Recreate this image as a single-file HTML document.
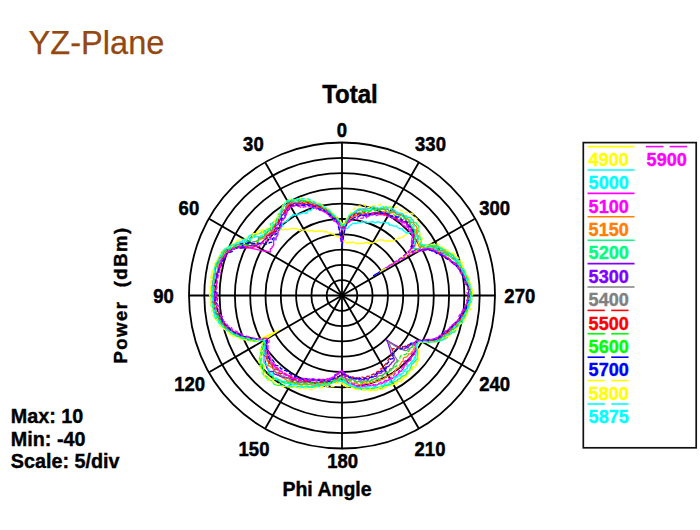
<!DOCTYPE html><html><head><meta charset="utf-8"><style>html,body{margin:0;padding:0;background:#fff;}svg{display:block}</style></head><body>
<svg width="700" height="530" viewBox="0 0 700 530" font-family="'Liberation Sans', Arial, sans-serif">
<rect width="700" height="530" fill="#fff"/>
<text x="28.6" y="54" font-size="32.6" fill="#94470F" stroke="#94470F" stroke-width="0.25">YZ-Plane</text>
<g fill="none" stroke="#000" stroke-width="1.8"><path d="M357.30,295.5 C357.30,304.14 350.64,310.80 342.0,310.80 C333.36,310.80 326.70,304.14 326.70,295.5 C326.70,286.86 333.36,280.20 342.0,280.20 C350.64,280.20 357.30,286.86 357.30,295.5 Z"/><path d="M372.60,295.5 C372.60,312.79 359.29,326.10 342.0,326.10 C324.71,326.10 311.40,312.79 311.40,295.5 C311.40,278.21 324.71,264.90 342.0,264.90 C359.29,264.90 372.60,278.21 372.60,295.5 Z"/><path d="M387.90,295.5 C387.90,321.43 367.93,341.40 342.0,341.40 C316.07,341.40 296.10,321.43 296.10,295.5 C296.10,269.57 316.07,249.60 342.0,249.60 C367.93,249.60 387.90,269.57 387.90,295.5 Z"/><path d="M403.20,295.5 C403.20,330.08 376.58,356.70 342.0,356.70 C307.42,356.70 280.80,330.08 280.80,295.5 C280.80,260.92 307.42,234.30 342.0,234.30 C376.58,234.30 403.20,260.92 403.20,295.5 Z"/><path d="M418.50,295.5 C418.50,338.72 385.22,372.00 342.0,372.00 C298.78,372.00 265.50,338.72 265.50,295.5 C265.50,252.28 298.78,219.00 342.0,219.00 C385.22,219.00 418.50,252.28 418.50,295.5 Z"/><path d="M433.80,295.5 C433.80,347.37 393.87,387.30 342.0,387.30 C290.13,387.30 250.20,347.37 250.20,295.5 C250.20,243.63 290.13,203.70 342.0,203.70 C393.87,203.70 433.80,243.63 433.80,295.5 Z"/><path d="M449.10,295.5 C449.10,356.01 402.51,402.60 342.0,402.60 C281.49,402.60 234.90,356.01 234.90,295.5 C234.90,234.99 281.49,188.40 342.0,188.40 C402.51,188.40 449.10,234.99 449.10,295.5 Z"/><path d="M464.40,295.5 C464.40,364.66 411.16,417.90 342.0,417.90 C272.84,417.90 219.60,364.66 219.60,295.5 C219.60,226.34 272.84,173.10 342.0,173.10 C411.16,173.10 464.40,226.34 464.40,295.5 Z"/><path d="M479.70,295.5 C479.70,373.30 419.80,433.20 342.0,433.20 C264.20,433.20 204.30,373.30 204.30,295.5 C204.30,217.70 264.20,157.80 342.0,157.80 C419.80,157.80 479.70,217.70 479.70,295.5 Z"/><path d="M495.00,295.5 C495.00,381.94 428.44,448.50 342.0,448.50 C255.56,448.50 189.00,381.94 189.00,295.5 C189.00,209.06 255.56,142.50 342.0,142.50 C428.44,142.50 495.00,209.06 495.00,295.5 Z"/><line x1="342.0" y1="295.5" x2="342.00" y2="142.50"/><line x1="342.0" y1="295.5" x2="418.50" y2="163.00"/><line x1="342.0" y1="295.5" x2="474.50" y2="219.00"/><line x1="342.0" y1="295.5" x2="495.00" y2="295.50"/><line x1="342.0" y1="295.5" x2="474.50" y2="372.00"/><line x1="342.0" y1="295.5" x2="418.50" y2="428.00"/><line x1="342.0" y1="295.5" x2="342.00" y2="448.50"/><line x1="342.0" y1="295.5" x2="265.50" y2="428.00"/><line x1="342.0" y1="295.5" x2="209.50" y2="372.00"/><line x1="342.0" y1="295.5" x2="189.00" y2="295.50"/><line x1="342.0" y1="295.5" x2="209.50" y2="219.00"/><line x1="342.0" y1="295.5" x2="265.50" y2="163.00"/></g>
<g fill="none" stroke-width="1.3" stroke-linejoin="round"><path d="M342.0,239.7 341.3,238.9 340.5,238.4 339.8,238.4 339.0,237.4 338.2,236.8 337.3,236.3 336.5,236.0 336.0,236.4 335.7,236.0 334.9,235.3 334.0,234.5 333.1,234.0 332.3,234.1 331.4,233.7 330.4,233.0 329.6,233.2 328.8,233.2 327.7,232.5 326.7,231.7 325.7,231.4 325.7,231.4 324.9,231.6 324.1,231.9 322.9,230.9 321.9,230.9 321.0,230.8 320.2,231.4 319.4,231.7 318.2,230.9 317.2,230.9 316.5,231.5 315.4,231.2 314.5,231.5 313.5,231.5 312.7,230.5 312.0,230.4 311.0,230.4 310.2,231.0 309.1,231.0 307.9,230.7 306.5,230.2 305.3,230.1 304.2,230.1 302.9,229.8 301.5,229.4 300.8,230.2 300.0,230.9 297.8,229.4 295.9,228.5 294.6,228.4 294.2,228.5 293.3,228.4 291.9,228.4 290.8,228.7 289.7,229.1 288.5,229.5 287.2,229.6 285.3,229.1 284.1,229.5 282.9,229.9 280.8,229.3 279.7,229.9 278.8,230.0 278.3,230.1 276.7,230.2 275.0,230.2 274.0,231.0 272.8,230.9 271.3,230.1 269.8,230.5 268.4,230.9 266.7,231.2 265.9,231.7 262.8,229.6 261.2,230.1 259.8,230.7 257.7,230.8 257.0,232.0 256.4,233.3 254.5,233.6 252.4,234.0 251.3,234.9 250.8,236.3 249.4,237.1 247.4,237.5 245.6,238.2 244.5,239.2 241.6,239.3 239.8,240.0 237.4,240.5 236.4,241.7 236.2,243.3 233.7,243.9 231.3,244.5 230.6,245.9 229.1,247.0 226.4,247.6 224.7,248.7 223.7,250.1 222.3,251.3 221.1,252.7 220.3,254.2 219.7,255.8 218.6,257.2 218.0,258.8 217.5,260.4 215.8,261.7 215.6,263.4 215.2,265.1 214.8,266.7 214.6,268.4 213.2,269.9 212.2,271.4 212.0,273.2 211.7,274.9 211.9,276.6 212.0,278.4 211.7,280.1 211.3,281.8 211.0,283.5 211.1,285.2 211.2,286.9 210.4,288.6 210.4,290.3 210.4,292.1 210.1,293.8 209.8,295.5 210.5,297.2 210.7,298.9 210.8,300.7 210.7,302.4 211.0,304.1 212.2,305.7 212.6,307.4 212.4,309.1 212.9,310.8 213.9,312.4 214.3,314.0 214.1,315.8 214.5,317.4 215.2,319.0 216.8,320.4 218.2,321.8 219.3,323.3 220.2,324.7 221.0,326.2 222.7,327.5 224.1,328.7 226.1,329.8 227.6,331.0 229.5,332.0 230.2,333.4 231.1,334.8 234.2,335.3 237.3,335.7 238.4,336.8 239.6,337.9 241.8,338.5 244.1,339.1 246.6,339.5 248.5,340.1 250.6,340.6 252.7,341.0 254.9,341.3 264.2,337.2 270.5,334.3 278.5,330.5 272.4,334.5 266.7,338.3 264.4,340.3 263.1,342.4 262.6,344.2 262.8,345.5 262.2,347.3 261.9,349.0 261.6,350.7 261.9,352.1 262.3,353.4 261.0,356.0 261.1,357.6 261.5,359.0 261.1,361.0 261.4,362.5 261.9,363.9 263.1,364.7 263.9,365.8 264.1,367.5 263.6,369.9 263.8,371.7 264.9,372.6 265.5,374.0 266.0,375.6 267.4,376.2 268.3,377.4 269.1,378.6 270.8,378.8 272.5,379.1 274.4,378.9 276.1,379.2 277.7,379.3 278.9,380.0 280.0,380.9 281.1,381.7 282.4,382.2 284.0,382.3 285.3,382.8 287.2,382.3 288.4,382.9 289.7,383.4 291.6,382.8 292.4,384.1 294.0,384.0 295.3,384.3 296.8,384.3 298.1,384.5 299.0,385.6 300.1,386.4 301.5,386.5 303.6,384.8 305.0,384.8 305.9,386.0 306.8,387.3 308.1,387.3 309.8,386.4 311.0,386.8 312.3,386.9 313.9,386.2 315.2,385.9 316.5,386.1 317.9,385.5 318.9,386.3 320.4,385.7 321.7,385.1 322.7,386.1 324.1,385.6 325.5,384.5 326.8,384.1 327.8,384.9 329.1,384.3 330.4,383.5 331.6,383.2 332.9,382.2 334.0,382.6 335.1,382.8 336.3,382.3 337.5,381.9 338.6,381.7 339.8,380.8 340.9,381.4 342.0,383.0 343.1,383.0 344.3,384.5 345.6,386.5 346.8,387.0 348.0,386.9 349.2,386.6 350.4,386.7 351.6,386.9 352.9,387.7 354.3,388.8 355.6,389.2 356.8,389.3 358.1,389.4 359.4,389.3 360.6,389.0 362.1,389.9 363.4,390.3 364.7,390.1 365.8,389.3 367.3,389.8 368.9,390.7 370.2,390.6 371.6,390.7 372.7,390.0 374.0,389.7 375.7,390.7 376.9,390.1 378.0,389.2 379.4,389.1 380.9,389.4 382.4,389.4 383.2,388.1 384.4,387.5 385.7,387.1 386.7,386.1 387.8,385.3 389.3,385.4 390.8,385.4 392.2,385.1 393.4,384.6 394.6,383.9 396.3,384.2 397.2,383.0 397.7,381.3 399.3,381.3 401.3,381.8 402.0,380.4 402.1,378.3 403.4,377.7 404.8,377.3 406.1,376.8 407.0,375.8 407.6,374.4 408.7,373.6 409.2,372.1 409.6,370.6 411.0,370.1 412.4,369.6 412.8,368.2 414.0,367.5 415.4,367.0 415.9,365.6 416.5,364.4 417.0,363.0 417.5,361.7 418.1,360.5 418.4,359.0 417.9,356.9 417.9,355.3 418.4,354.1 418.1,352.3 418.6,351.2 417.9,349.1 417.0,347.1 416.8,345.5 416.3,343.8 416.6,342.6 418.3,342.2 420.4,342.1 422.5,342.0 425.3,342.2 428.7,342.6 430.3,341.9 432.0,341.3 435.3,341.5 437.8,341.2 439.4,340.4 441.3,339.7 443.0,338.9 443.9,337.7 446.2,337.1 447.6,336.0 449.3,335.1 450.9,334.1 451.1,332.6 452.4,331.4 454.4,330.4 455.7,329.2 456.7,327.8 457.0,326.3 457.5,324.8 459.6,323.7 461.3,322.5 463.5,321.3 463.3,319.6 463.5,318.0 464.8,316.6 465.4,315.1 466.1,313.5 466.5,311.9 466.9,310.3 468.2,308.8 469.4,307.2 469.5,305.5 469.7,303.9 469.9,302.2 469.9,300.5 470.6,298.9 471.3,297.2 470.8,295.5 471.0,293.8 472.0,292.1 472.4,290.4 471.6,288.7 470.7,287.1 470.4,285.4 470.2,283.7 468.7,282.2 467.6,280.6 467.3,279.0 466.9,277.4 466.6,275.8 464.9,274.4 464.8,272.7 465.3,271.0 463.6,269.6 463.1,268.1 463.1,266.4 462.0,265.0 461.0,263.6 460.0,262.2 458.8,260.9 457.3,259.7 455.7,258.5 455.5,257.0 454.4,255.7 453.4,254.4 451.6,253.4 449.0,252.8 447.4,251.9 445.6,251.0 443.1,250.5 442.6,249.1 441.2,248.2 440.0,247.2 438.4,246.4 437.2,245.4 434.8,245.1 431.7,245.3 428.9,245.4 425.4,245.9 422.0,246.5 419.8,246.4 419.6,245.1 419.0,244.1 419.4,242.3 420.3,240.1 420.1,238.8 418.9,238.1 418.8,236.6 417.8,235.7 417.3,234.5 417.5,232.7 417.1,231.3 416.2,230.4 413.1,231.4 410.8,231.9 408.1,232.8 402.3,237.3 401.4,237.6 399.7,237.8 397.4,238.7 394.4,240.3 392.6,240.8 391.9,240.7 390.9,241.2 389.8,241.0 388.7,240.9 387.3,241.1 386.4,240.6 384.9,241.1 383.8,241.0 383.3,240.2 382.2,240.2 381.2,240.0 380.3,239.8 379.1,239.9 377.7,240.5 376.0,241.6 374.8,242.0 373.5,242.5 372.0,243.5 371.9,243.3 371.5,242.8 370.8,242.5 369.4,243.3 368.5,243.5 368.1,242.5 367.2,242.6 366.5,242.4 365.5,242.7 364.5,243.2 363.7,243.0 362.9,243.2 361.9,243.5 361.1,243.7 360.5,243.1 359.8,243.1 358.9,243.4 358.0,243.9 357.9,243.4 357.5,243.3 356.6,243.8 356.0,243.1 355.3,243.1 354.6,242.9 354.0,242.7 353.3,242.2 352.6,242.0 351.8,242.4 351.0,242.9 350.3,242.8 349.8,242.0 349.0,242.0 348.2,242.8 347.5,243.1 346.8,242.9 346.3,242.6 346.1,243.0 345.5,241.8 344.9,240.7 344.1,240.9 343.4,240.6 342.7,240.1 342.0,238.7" stroke="#ffff00"/><path d="M342.0,229.7 341.1,228.1 340.2,226.7 339.6,226.0 339.2,224.9 338.2,223.0 337.1,221.4 336.0,219.6 335.2,218.1 334.9,218.1 333.9,218.0 332.7,217.2 331.5,216.0 330.3,214.9 329.1,214.3 327.9,213.7 326.6,212.3 325.2,210.8 323.8,209.8 322.6,209.8 321.2,209.0 319.8,208.2 318.5,207.9 317.0,207.0 315.6,206.4 314.8,206.4 314.4,206.5 313.4,207.4 312.4,208.4 311.6,209.7 310.7,210.7 309.2,210.0 308.2,210.8 307.5,212.1 306.5,212.9 306.6,213.4 305.3,213.2 303.9,212.9 302.6,212.9 301.5,213.4 300.4,213.9 299.1,214.0 298.1,214.4 297.7,213.9 296.6,214.4 295.7,215.4 293.9,214.7 292.6,214.9 292.0,216.3 290.7,216.6 290.0,217.7 289.1,218.6 288.3,219.5 287.6,220.7 286.6,221.4 285.4,221.7 284.2,222.2 283.3,223.0 282.2,223.6 282.6,224.7 282.5,225.8 281.7,226.8 281.4,228.2 280.3,228.8 279.1,229.3 278.8,230.7 278.6,232.1 278.0,233.1 277.8,233.5 277.4,234.2 277.3,235.7 276.8,236.8 276.3,237.8 276.4,239.5 275.8,240.4 275.3,240.1 272.5,239.2 269.7,238.5 267.1,238.1 264.7,237.8 261.8,237.3 258.7,236.6 255.9,236.3 254.3,236.3 251.4,234.9 249.7,235.6 248.4,236.5 248.2,238.0 247.5,239.3 244.6,239.3 242.8,239.9 242.3,241.3 240.2,241.9 237.6,242.3 236.0,243.2 234.2,244.1 232.4,245.0 230.7,245.9 228.4,246.7 227.0,247.9 226.0,249.2 224.6,250.5 223.0,251.6 222.0,253.0 221.7,254.7 220.5,256.0 219.3,257.4 219.2,259.1 218.5,260.7 217.4,262.1 216.3,263.6 215.8,265.2 215.4,266.9 214.4,268.4 214.5,270.1 214.0,271.8 213.5,273.4 213.9,275.2 214.4,277.0 214.7,278.7 213.5,280.3 212.5,281.9 213.1,283.7 212.3,285.3 211.6,287.0 211.6,288.7 212.2,290.4 212.7,292.1 211.7,293.8 211.1,295.5 211.9,297.2 211.1,298.9 211.3,300.6 212.1,302.3 211.0,304.1 211.0,305.8 212.6,307.4 213.6,309.0 213.1,310.8 213.8,312.4 214.6,314.0 214.0,315.8 214.8,317.4 216.3,318.8 217.1,320.3 217.9,321.9 219.0,323.3 221.2,324.5 222.3,325.9 223.5,327.3 225.3,328.4 226.8,329.6 228.6,330.7 230.4,331.8 231.2,333.1 233.5,333.9 235.3,334.9 236.8,335.9 239.0,336.6 240.4,337.6 241.9,338.5 245.1,338.6 247.4,339.1 249.0,339.8 252.1,339.9 254.6,340.0 256.6,340.4 260.2,339.9 262.7,339.9 264.2,340.4 264.9,341.4 265.2,342.6 264.6,344.4 263.8,346.3 264.7,347.1 264.6,348.7 263.2,351.2 264.2,352.1 265.0,353.0 263.9,355.4 263.2,357.6 263.3,359.3 263.5,360.8 263.7,362.3 264.7,363.3 265.8,364.2 265.6,366.1 266.6,367.1 267.5,368.1 268.0,369.5 268.0,371.5 268.8,372.6 270.0,373.4 270.5,375.0 272.2,375.0 272.9,376.5 273.7,377.7 274.7,378.6 276.6,378.4 277.6,379.4 279.0,379.8 280.6,380.1 281.7,380.8 283.0,381.3 284.7,381.2 286.3,381.3 287.5,381.9 288.5,382.8 289.2,384.3 291.1,383.7 292.5,383.9 293.4,385.0 295.0,384.7 296.7,384.5 298.4,384.0 299.6,384.5 300.8,384.8 302.4,384.5 304.0,383.9 305.3,384.1 306.4,384.6 307.7,384.9 309.1,384.6 310.5,384.4 311.6,385.1 312.9,385.2 314.4,384.2 315.6,384.5 316.9,384.4 318.2,384.2 319.4,384.4 320.6,384.5 321.9,384.5 323.3,383.5 324.4,383.8 325.8,383.1 327.0,383.0 328.1,383.5 329.4,382.5 330.6,382.3 331.7,382.9 332.9,381.9 334.1,381.8 335.2,381.7 336.4,381.1 337.5,381.2 338.6,381.5 339.8,380.6 340.9,380.8 342.0,380.7 343.1,381.5 344.3,382.9 345.5,383.5 346.6,384.0 347.9,384.9 349.1,385.4 350.3,385.3 351.3,384.1 352.5,384.6 353.9,385.8 355.2,386.7 356.6,387.4 357.8,387.4 359.2,388.1 360.5,388.6 361.7,388.0 363.0,388.4 364.5,389.1 365.6,388.5 366.7,387.8 368.2,388.2 369.6,388.8 370.8,388.3 372.0,387.8 373.4,388.0 374.9,388.5 376.0,387.6 377.3,387.6 378.5,387.0 379.6,386.3 381.1,386.6 382.4,386.2 383.4,385.3 384.5,384.5 386.0,384.7 387.5,384.8 388.5,384.0 389.4,382.9 390.5,382.1 391.9,382.0 393.1,381.4 393.8,380.1 394.6,378.8 395.4,377.7 396.6,377.2 397.6,376.4 398.7,375.8 400.2,375.6 401.0,374.5 402.0,373.7 403.2,373.1 403.8,371.8 404.8,371.0 405.3,369.6 406.4,368.9 407.5,368.2 407.7,366.5 408.7,365.8 409.5,364.8 410.3,363.8 411.3,363.0 411.9,361.8 412.8,360.9 413.8,360.1 414.3,358.9 415.3,358.1 415.4,356.5 415.4,355.0 415.9,353.7 416.3,352.5 416.9,351.4 417.4,350.3 417.2,348.6 416.5,346.7 416.5,345.3 417.3,344.4 417.8,343.3 418.7,342.5 419.5,341.6 421.8,341.6 424.5,341.7 426.7,341.5 429.5,341.6 432.7,341.7 434.9,341.3 437.0,340.8 439.3,340.4 440.6,339.4 442.3,338.6 443.2,337.4 443.8,336.1 445.1,335.1 447.4,334.4 449.3,333.5 451.3,332.6 452.7,331.5 453.3,330.0 454.0,328.7 454.1,327.1 455.9,326.0 458.3,325.0 459.5,323.7 460.0,322.2 461.2,320.8 463.1,319.6 464.2,318.1 464.9,316.6 464.8,315.0 465.0,313.3 465.7,311.8 466.6,310.3 467.2,308.7 468.6,307.1 469.9,305.6 469.6,303.9 470.0,302.2 471.6,300.6 471.9,298.9 471.0,297.2 471.7,295.5 471.1,293.8 470.5,292.1 470.7,290.4 471.1,288.7 470.3,287.1 469.8,285.4 469.9,283.7 469.3,282.1 468.6,280.5 468.5,278.8 467.7,277.3 465.9,275.9 465.7,274.2 465.1,272.7 464.6,271.1 464.1,269.6 463.0,268.1 462.2,266.6 461.1,265.2 459.6,264.0 459.8,262.3 459.5,260.7 457.2,259.7 455.8,258.5 454.0,257.5 453.5,256.0 452.4,254.8 450.9,253.7 448.2,253.1 445.9,252.4 444.8,251.3 443.8,250.2 442.7,249.1 441.7,247.9 438.6,247.9 436.4,247.4 435.5,246.3 433.5,245.8 431.8,245.2 428.8,245.4 425.7,245.7 424.3,245.1 421.3,245.5 420.0,244.9 420.1,243.3 419.6,242.2 417.9,241.8 418.0,240.3 418.5,238.4 418.7,236.6 417.9,235.6 417.4,234.5 417.5,232.7 418.5,230.1 413.8,233.1 412.8,233.4 411.5,233.0 410.4,232.3 408.1,232.8 406.4,233.1 406.6,232.6 405.4,232.1 404.3,231.5 403.7,230.5 402.5,230.1 402.6,230.0 402.1,228.7 400.7,228.6 399.3,228.5 398.2,227.9 397.4,227.1 396.8,226.0 395.3,226.1 393.7,226.2 392.8,225.6 391.8,225.0 390.3,225.2 389.5,225.4 389.2,224.9 388.8,223.5 387.9,222.8 386.6,222.8 385.4,222.6 384.2,222.4 383.2,222.0 381.6,222.6 380.3,222.8 379.4,222.0 378.3,221.9 377.1,221.9 375.5,222.9 374.3,222.9 374.4,222.4 373.6,222.1 372.6,221.7 371.3,222.1 370.3,221.9 368.9,222.5 367.8,222.6 366.9,222.3 365.9,221.9 364.9,221.6 363.6,222.5 362.8,221.9 361.8,221.6 360.5,222.7 359.4,222.8 358.5,222.8 357.4,222.9 356.3,223.5 355.4,223.4 354.4,223.2 353.4,223.3 352.4,223.5 351.4,224.8 351.3,224.7 350.3,225.1 349.3,226.1 348.2,227.7 347.2,228.9 346.4,228.1 345.5,227.9 344.6,229.8 344.6,230.1 343.7,229.2 342.9,228.9 342.0,229.4" stroke="#00ffff"/><path d="M342.0,245.8 341.3,239.9 340.4,234.3 339.4,228.9 338.2,223.3 337.2,222.3 336.2,222.0 335.2,221.4 334.0,219.6 332.8,217.5 331.7,217.1 330.6,216.6 329.3,215.6 328.0,213.9 326.5,211.9 325.3,211.7 324.2,212.0 322.9,211.0 321.4,209.7 320.1,209.3 318.8,209.0 317.2,207.7 315.4,205.7 314.1,205.7 313.1,206.6 311.6,206.0 310.2,205.8 308.6,204.9 307.0,204.4 305.9,205.0 304.4,204.8 302.9,204.4 301.7,205.0 300.3,205.1 298.9,205.1 297.7,205.6 296.0,205.2 294.6,205.4 292.7,204.8 291.6,205.6 291.0,207.1 289.6,207.4 288.8,208.7 287.8,209.6 287.2,211.1 286.3,212.2 285.6,213.4 285.7,215.9 285.2,217.3 284.4,218.4 283.5,219.3 282.4,219.9 281.7,221.0 281.5,222.4 281.8,223.2 281.6,224.7 281.2,226.2 280.3,227.0 279.8,228.2 279.5,229.7 278.6,230.4 277.9,231.4 277.9,233.0 277.9,234.7 277.4,235.8 276.4,236.4 275.9,237.6 276.1,239.2 275.5,238.9 274.6,239.4 273.7,240.2 273.6,241.6 273.6,243.0 273.8,244.6 273.5,245.8 272.3,246.3 272.1,246.6 272.2,247.5 271.5,248.4 270.3,248.9 270.3,250.2 270.3,251.6 270.3,252.0 268.4,251.7 265.0,251.0 264.0,251.0 262.0,250.7 257.4,249.6 252.9,248.6 250.4,248.0 248.3,247.8 245.3,247.8 242.2,247.9 239.5,247.7 237.9,247.5 236.1,248.3 233.1,248.7 231.3,249.7 229.8,250.7 226.6,251.2 225.5,252.5 225.3,254.2 224.7,255.7 224.4,257.3 223.8,258.8 222.1,260.0 222.0,261.7 220.8,263.0 219.7,264.4 219.4,266.1 218.2,267.5 218.4,269.2 218.9,271.0 217.7,272.5 216.7,274.0 216.8,275.7 216.7,277.3 216.4,279.0 216.9,280.7 217.1,282.4 216.7,284.0 215.9,285.6 215.4,287.2 215.8,288.9 215.0,290.5 213.8,292.1 214.4,293.8 215.5,295.5 215.5,297.2 215.2,298.8 215.0,300.5 214.7,302.2 215.3,303.8 216.2,305.4 216.6,307.0 216.4,308.7 217.2,310.3 218.3,311.8 219.3,313.3 219.8,314.9 220.5,316.4 220.0,318.1 220.1,319.7 222.4,320.9 223.3,322.4 224.1,323.8 224.5,325.3 226.9,326.3 228.0,327.7 229.0,329.0 231.4,329.8 232.2,331.2 233.7,332.3 236.6,332.8 238.8,333.6 240.0,334.7 241.3,335.7 243.4,336.4 245.8,336.8 248.1,337.3 249.9,337.9 252.5,338.2 253.8,339.0 255.5,339.6 258.7,339.3 261.5,339.2 263.8,339.3 266.4,339.2 267.0,340.1 266.5,341.8 267.1,342.8 267.1,344.2 266.5,346.0 266.8,347.2 266.6,348.8 266.8,350.2 267.4,351.2 268.0,352.3 268.5,353.4 268.6,354.9 269.5,355.8 269.9,357.1 269.9,358.8 269.9,360.4 271.2,361.0 271.0,362.9 271.4,364.3 273.8,363.7 274.9,364.4 274.6,366.5 275.3,367.7 276.8,368.0 277.8,368.7 278.5,369.8 279.5,370.7 280.8,371.1 281.8,371.9 282.6,373.0 283.5,373.9 284.7,374.4 286.0,374.8 287.4,374.9 288.5,375.6 289.9,375.7 291.0,376.4 292.0,377.1 292.7,378.3 293.9,378.9 295.2,379.0 297.0,378.4 298.2,378.7 299.2,379.5 300.8,379.1 302.5,378.4 303.8,378.3 304.8,379.1 306.3,378.7 307.2,379.5 308.3,379.9 309.6,379.9 311.0,379.5 312.5,378.8 313.8,378.7 314.8,379.3 315.7,380.1 317.0,379.8 318.4,379.1 319.6,379.2 320.6,379.6 321.8,379.7 323.0,379.4 324.1,379.5 325.2,380.1 326.5,379.1 327.7,378.6 328.8,379.0 330.0,378.1 331.1,378.0 332.3,377.8 333.4,377.6 334.6,376.5 335.7,375.0 336.8,374.1 337.9,373.3 339.0,372.0 340.0,371.7 341.0,371.5 342.0,370.6 343.0,372.6 344.1,375.2 345.2,377.0 346.4,380.0 347.7,382.3 348.9,383.1 350.1,383.6 351.3,383.7 352.5,384.0 353.7,384.7 355.0,385.3 356.3,386.0 357.7,386.9 359.0,387.4 360.2,387.2 361.4,386.7 362.6,386.4 363.9,386.5 365.1,386.4 366.3,386.2 367.5,385.8 368.8,385.9 370.0,385.7 371.2,385.2 372.5,385.2 374.1,386.2 375.5,386.2 376.5,385.4 377.6,384.6 378.7,384.2 380.1,384.1 381.3,383.9 382.5,383.4 383.4,382.2 384.8,382.2 386.2,382.2 386.9,380.9 388.0,380.3 389.2,379.7 390.4,379.3 391.7,379.0 392.7,378.2 393.5,377.2 394.8,376.8 395.9,376.2 396.7,375.0 397.7,374.3 398.6,373.4 399.3,372.2 400.2,371.4 401.6,371.0 402.1,369.7 403.0,368.9 403.8,367.9 404.1,366.3 404.9,365.3 406.0,364.7 406.7,363.6 407.0,362.2 408.1,361.6 409.2,361.0 410.3,360.4 411.0,359.3 411.2,357.8 411.8,356.7 412.4,355.7 413.6,355.0 414.6,354.3 414.8,352.9 415.0,351.5 414.8,349.9 415.5,348.9 416.4,348.1 414.7,345.4 413.8,343.5 414.6,342.7 415.9,342.2 417.2,341.6 418.7,341.1 421.3,341.3 423.3,341.1 424.5,340.3 425.9,339.7 428.4,339.5 431.4,339.6 433.9,339.3 435.1,338.4 436.7,337.7 438.7,337.0 439.7,336.0 441.6,335.2 443.1,334.3 443.9,333.1 445.0,332.0 446.6,331.0 448.0,329.9 449.2,328.8 450.3,327.6 451.8,326.5 453.9,325.5 454.2,324.0 455.7,322.8 457.1,321.5 457.9,320.1 459.8,318.9 460.4,317.4 460.7,315.9 462.7,314.6 464.0,313.2 464.0,311.6 463.9,309.9 465.3,308.5 466.6,306.9 466.9,305.3 466.8,303.7 467.3,302.1 467.6,300.4 467.8,298.8 469.8,297.2 470.7,295.5 470.5,293.8 470.0,292.1 469.5,290.5 469.2,288.8 469.3,287.2 468.5,285.5 466.2,284.1 465.8,282.5 465.9,280.8 465.3,279.3 464.3,277.8 463.2,276.3 462.0,274.9 461.3,273.4 460.2,272.0 459.7,270.5 459.0,269.0 458.8,267.5 457.8,266.1 455.5,265.1 453.5,264.1 452.2,262.9 451.8,261.4 450.4,260.3 448.5,259.3 447.1,258.3 446.2,257.1 444.7,256.1 442.9,255.2 441.2,254.4 440.1,253.3 438.2,252.7 435.3,252.5 434.7,251.3 432.9,250.7 431.0,250.1 429.0,249.7 426.5,249.6 422.3,250.5 419.1,251.0 415.5,251.8 412.3,252.4 409.0,253.2 408.4,252.3 410.2,249.9 410.9,248.2 411.4,246.5 411.5,245.0 412.0,243.2 411.3,242.3 411.8,240.5 411.8,239.0 412.4,237.0 412.1,235.6 411.8,234.3 412.2,232.3 410.9,231.8 409.7,231.3 408.9,230.3 408.5,229.0 408.7,227.1 406.9,227.1 405.4,226.9 404.5,226.1 403.5,225.4 402.2,225.0 402.0,223.3 401.2,222.4 400.9,220.8 399.2,220.9 397.7,220.9 397.2,219.6 396.7,218.0 395.4,217.8 394.1,217.5 393.1,216.8 392.3,215.7 391.1,215.3 389.6,215.5 389.0,214.1 387.9,213.6 386.1,214.2 385.2,213.3 384.4,212.3 382.9,212.5 381.6,212.6 380.3,212.5 379.0,212.3 377.8,212.2 376.4,212.5 375.2,212.3 373.7,212.9 372.4,213.0 371.2,213.1 369.7,213.8 368.4,214.2 367.1,214.6 366.1,214.0 365.1,213.4 363.8,214.1 362.6,214.5 361.4,214.6 360.3,214.5 359.2,214.5 358.0,215.0 356.8,215.9 355.7,215.7 354.6,215.7 353.4,216.6 352.3,217.0 351.2,217.5 350.1,218.4 348.9,220.0 347.8,221.5 346.8,222.9 345.8,223.0 344.6,228.5 343.6,233.5 342.7,239.7 342.0,245.9" stroke="#ff00ff"/><path d="M342.0,227.4 341.1,226.1 340.2,225.1 339.1,222.7 338.1,220.4 337.0,219.7 335.9,218.3 334.9,217.8 333.7,216.6 332.6,216.0 331.4,215.2 330.1,213.7 329.0,213.2 327.7,212.4 326.3,210.9 325.0,210.1 323.7,209.6 322.3,208.3 320.7,206.8 319.6,207.2 318.2,206.6 317.0,206.7 315.8,207.0 314.0,205.3 312.3,204.0 310.9,203.9 309.6,204.0 308.1,203.6 306.4,202.7 305.0,202.7 304.0,203.7 302.6,203.7 300.8,203.0 299.0,202.3 297.8,202.7 296.2,202.7 295.0,203.2 293.7,203.6 292.0,203.4 290.7,203.9 289.3,204.2 287.9,204.6 286.7,205.3 286.6,207.7 286.4,209.8 285.1,210.3 284.6,211.9 283.9,213.3 283.0,214.3 282.0,215.1 281.3,216.4 280.7,217.7 279.8,218.6 279.2,220.0 278.6,221.3 277.9,222.5 276.9,223.2 275.7,223.7 274.7,224.6 274.5,226.2 273.9,227.4 273.5,228.8 272.6,229.6 271.8,230.6 271.4,231.9 270.0,232.3 269.1,233.2 268.4,234.3 266.5,234.4 265.6,235.3 265.3,236.7 264.4,237.5 263.3,238.4 261.7,238.8 260.1,239.2 258.7,239.9 258.1,241.0 257.3,242.1 256.9,243.4 255.3,243.9 254.1,244.7 252.2,245.2 250.4,245.7 247.6,245.8 244.8,246.0 241.7,246.0 239.3,246.5 235.8,246.5 232.8,246.9 232.2,248.3 230.4,249.3 229.2,250.5 228.1,251.8 226.3,252.8 225.1,254.1 223.3,255.2 222.9,256.8 222.4,258.4 221.7,259.9 220.4,261.2 219.3,262.6 218.2,264.1 217.7,265.6 217.8,267.4 217.9,269.1 217.8,270.8 216.7,272.3 216.1,273.9 215.9,275.5 215.3,277.1 215.5,278.8 215.7,280.6 214.7,282.1 214.0,283.7 213.8,285.4 214.5,287.1 214.7,288.8 214.5,290.5 213.4,292.1 213.1,293.8 213.8,295.5 213.9,297.2 214.4,298.8 214.3,300.5 214.2,302.2 214.4,303.9 214.2,305.6 214.6,307.2 215.5,308.8 215.8,310.4 216.2,312.1 217.2,313.6 218.7,315.0 219.2,316.6 219.0,318.3 219.1,319.9 220.4,321.3 221.8,322.7 223.1,324.0 223.9,325.5 224.1,327.1 226.0,328.2 227.9,329.3 228.3,330.8 230.1,331.9 232.8,332.6 234.5,333.6 236.1,334.6 238.0,335.4 240.1,336.1 241.6,337.1 243.9,337.7 246.2,338.2 248.3,338.7 250.6,339.1 251.9,339.9 254.5,340.1 257.6,339.9 261.5,339.2 265.1,338.6 265.9,339.5 266.2,340.6 266.2,342.0 265.6,343.7 265.2,345.4 265.6,346.5 265.2,348.3 265.3,349.7 265.0,351.4 264.9,353.1 265.5,354.2 266.3,355.2 266.1,357.0 266.5,358.3 266.8,359.7 267.2,361.1 268.5,361.7 268.4,363.6 268.1,365.7 269.7,366.0 270.6,366.9 272.0,367.4 272.9,368.4 273.3,369.8 274.1,370.9 275.1,371.8 276.1,372.7 276.9,373.7 278.3,374.2 279.3,375.0 280.4,375.8 281.1,377.0 282.2,377.8 283.7,378.0 284.7,378.9 285.9,379.5 286.7,380.7 288.1,381.0 289.6,381.1 290.8,381.6 292.1,382.0 293.3,382.5 294.9,382.3 296.2,382.5 297.4,383.1 298.2,384.3 299.6,384.3 300.9,384.6 302.2,384.9 304.2,383.5 305.8,382.9 306.5,384.4 307.7,384.8 309.2,384.4 310.7,383.9 311.8,384.4 312.7,385.7 314.1,385.5 315.4,385.3 316.7,385.3 318.0,385.1 319.1,385.6 320.6,384.8 321.9,384.2 323.2,384.0 324.3,384.5 325.6,383.8 326.9,383.3 328.1,383.5 329.1,384.2 330.4,383.7 331.7,382.7 332.8,382.7 334.0,382.5 335.2,382.1 336.4,380.4 337.6,380.4 338.7,380.5 339.8,379.4 340.9,377.9 342.0,377.8 343.1,379.4 344.2,379.4 345.3,379.8 346.5,381.1 347.6,380.5 348.7,380.4 349.9,381.5 351.1,381.9 352.4,383.2 353.5,383.2 354.7,382.8 355.9,383.0 357.1,383.6 358.5,384.3 359.7,384.6 361.1,385.3 362.0,383.9 362.9,382.4 364.2,382.9 365.6,383.6 366.8,383.4 368.0,383.4 369.3,383.6 370.3,382.6 371.5,382.4 372.8,382.3 373.8,381.6 375.0,381.6 376.4,381.6 377.7,381.6 378.6,380.7 379.3,379.4 380.8,379.7 382.2,379.7 383.1,378.9 384.2,378.4 385.1,377.3 385.9,376.3 387.3,376.3 388.6,376.1 389.4,375.3 390.6,374.8 391.9,374.6 392.7,373.6 393.5,372.6 394.7,372.1 395.4,371.0 396.0,369.8 396.6,368.6 397.7,368.1 398.9,367.7 399.5,366.4 399.8,365.0 400.7,364.2 401.1,362.8 401.6,361.6 402.9,361.4 403.2,360.0 403.3,358.4 404.0,357.5 405.4,357.3 406.6,356.8 407.5,356.1 408.2,355.1 408.5,353.8 410.4,353.9 411.3,353.1 411.5,351.8 412.8,351.3 413.2,350.1 413.6,349.0 414.4,348.1 415.2,347.2 415.4,346.0 415.5,344.6 416.9,344.2 417.1,342.9 416.8,341.4 418.6,341.1 421.8,341.6 425.0,342.0 427.9,342.1 429.8,341.7 432.0,341.4 434.3,341.0 437.4,341.0 439.8,340.6 440.5,339.4 442.5,338.7 444.1,337.8 444.8,336.5 445.9,335.4 446.6,334.1 448.9,333.3 450.3,332.2 450.4,330.7 451.6,329.5 453.5,328.5 454.9,327.4 455.6,325.9 455.9,324.4 456.9,323.1 459.0,322.0 460.3,320.6 461.1,319.2 462.9,317.9 464.3,316.5 463.9,314.8 464.6,313.3 464.9,311.7 465.5,310.1 467.1,308.6 467.5,307.0 468.0,305.4 468.5,303.8 467.9,302.1 468.2,300.5 468.9,298.8 469.6,297.2 470.1,295.5 469.3,293.8 469.0,292.2 469.2,290.5 469.5,288.8 468.6,287.2 467.6,285.6 467.5,284.0 466.8,282.4 466.6,280.8 466.3,279.1 464.8,277.7 464.0,276.2 464.2,274.5 463.8,272.9 462.2,271.6 461.9,270.0 461.7,268.4 459.9,267.2 458.2,266.0 458.3,264.3 458.1,262.8 456.9,261.5 455.4,260.3 453.4,259.3 452.3,258.1 451.5,256.7 449.7,255.8 448.4,254.6 447.0,253.6 445.2,252.7 444.3,251.5 443.0,250.5 439.9,250.4 438.0,249.7 436.8,248.7 435.7,247.8 434.4,246.9 432.3,246.4 430.3,246.0 428.0,245.9 425.5,245.8 422.3,246.3 419.7,246.5 418.4,245.9 418.6,244.3 418.7,242.8 418.0,241.8 417.1,241.0 417.4,239.2 418.0,237.2 417.9,235.7 416.8,235.0 416.7,233.3 416.7,231.7 416.6,230.0 417.1,227.9 416.5,226.6 415.5,225.8 414.6,224.7 413.7,223.8 413.2,222.4 411.5,222.3 410.2,221.7 409.2,220.9 408.5,219.7 407.5,218.8 406.3,218.2 405.0,217.7 403.9,217.0 403.2,215.8 401.8,215.4 400.2,215.4 398.9,215.0 397.6,214.6 396.6,213.9 395.6,213.0 394.4,212.5 392.8,212.5 391.1,212.9 389.6,213.0 388.1,213.1 387.3,212.1 386.1,211.6 384.7,211.8 383.3,211.7 381.8,212.0 380.3,212.5 378.7,213.1 377.1,213.7 376.2,212.9 374.8,213.2 373.6,213.2 371.8,214.7 370.6,214.6 369.8,213.7 368.4,214.2 367.3,214.0 366.2,213.9 365.1,213.6 364.0,213.6 362.6,214.2 361.7,213.6 360.4,214.1 359.2,214.6 358.1,214.5 356.9,215.3 355.8,215.3 354.6,215.8 353.4,216.8 352.3,217.2 351.2,217.9 350.0,219.1 349.0,219.0 347.9,220.3 346.7,223.6 345.7,225.8 344.7,226.9 343.8,227.0 342.9,226.8 342.0,227.2" stroke="#ff8000"/><path d="M342.0,225.1 341.1,223.7 340.1,222.4 339.1,220.8 338.0,219.0 336.9,218.4 335.9,217.5 334.7,215.8 333.5,215.1 332.4,214.8 331.1,212.8 329.8,211.5 328.5,210.0 327.1,208.7 325.8,208.1 324.4,207.1 323.0,206.2 321.7,205.9 320.1,204.1 318.7,203.6 317.7,204.8 316.1,203.7 314.4,202.4 313.1,202.3 311.4,201.4 309.9,200.9 308.9,202.0 307.2,201.1 305.5,200.4 304.2,200.8 302.6,200.3 300.9,199.8 299.7,200.6 298.1,200.3 296.7,200.6 295.3,200.8 293.7,200.8 292.2,200.9 290.6,200.8 289.3,201.3 288.1,202.1 286.4,202.1 285.1,202.7 284.4,204.2 283.4,205.3 282.9,207.1 282.8,209.4 282.3,211.0 281.2,211.8 280.3,212.9 280.0,214.7 278.9,215.5 277.8,216.2 277.3,217.7 276.8,219.2 276.1,220.4 274.7,220.8 273.7,221.7 272.8,222.6 272.2,223.8 270.5,224.0 270.7,226.0 270.8,228.0 269.5,228.5 267.9,228.8 266.6,229.4 265.4,230.1 264.7,231.2 262.9,231.4 261.6,232.1 260.6,233.0 259.1,233.6 257.1,233.8 255.6,234.5 254.7,235.5 253.7,236.5 252.1,237.1 251.7,238.5 251.2,239.9 250.0,240.8 247.7,241.1 246.5,242.0 244.4,242.5 242.2,243.0 240.5,243.8 237.8,244.1 235.2,244.6 233.0,245.2 230.7,245.9 229.7,247.2 228.3,248.4 226.1,249.3 224.4,250.4 222.3,251.3 221.9,253.0 221.7,254.7 222.0,256.5 220.5,257.8 218.9,259.0 218.1,260.6 218.1,262.3 217.3,263.8 216.1,265.3 215.6,266.9 215.4,268.6 215.5,270.3 215.5,272.1 216.0,273.8 215.6,275.5 213.5,276.9 214.1,278.7 214.4,280.4 213.3,282.0 213.4,283.7 212.7,285.3 212.6,287.0 212.5,288.7 212.0,290.4 212.2,292.1 212.4,293.8 212.6,295.5 211.6,297.2 211.8,298.9 213.0,300.6 212.6,302.3 212.2,304.0 212.9,305.7 213.0,307.4 213.9,309.0 214.4,310.6 214.8,312.2 216.0,313.8 216.2,315.4 216.4,317.1 216.3,318.8 217.7,320.2 220.4,321.3 221.2,322.8 221.4,324.4 223.1,325.7 224.4,327.0 225.6,328.3 226.8,329.6 228.8,330.6 230.3,331.8 231.7,333.0 233.6,333.9 235.1,334.9 236.3,336.1 238.7,336.7 240.4,337.6 242.3,338.3 245.0,338.7 246.0,339.8 248.4,340.1 250.8,340.5 252.8,341.0 255.9,340.8 258.8,340.7 262.7,339.9 263.8,340.7 263.1,342.4 262.5,344.2 261.8,346.1 261.6,347.7 261.3,349.4 260.7,351.4 260.6,353.0 260.5,354.7 259.5,357.1 259.5,358.8 259.9,360.2 260.2,361.7 260.2,363.6 260.5,365.1 261.1,366.4 261.6,367.9 262.3,369.2 263.5,370.0 263.0,372.4 263.1,374.4 264.0,375.6 265.5,376.2 266.8,376.9 267.0,378.8 268.6,379.2 269.8,380.0 271.2,380.6 272.5,381.3 273.1,382.9 274.0,384.1 275.4,384.7 276.9,385.1 278.4,385.4 280.3,385.2 282.1,385.2 283.3,385.8 284.6,386.6 286.3,386.4 287.8,386.6 289.3,386.7 290.7,387.0 292.5,386.6 293.8,387.0 295.3,387.2 296.9,387.0 298.6,386.6 300.0,386.7 301.3,386.9 302.6,387.2 304.1,387.0 305.7,386.6 306.9,387.0 308.1,387.4 309.6,386.9 310.9,387.1 312.2,387.3 313.7,386.6 314.9,386.9 316.3,386.7 317.7,386.1 318.9,386.4 320.3,385.7 321.7,385.2 323.1,384.5 324.4,383.8 325.8,382.9 326.8,384.0 327.9,384.3 329.3,383.4 330.4,383.5 331.7,382.6 332.9,382.0 334.1,381.3 335.3,380.2 336.5,379.7 337.7,378.5 338.7,378.7 339.8,378.8 340.9,377.5 342.0,377.6 343.1,378.8 344.2,379.8 345.4,382.1 346.6,383.5 347.8,384.6 349.1,385.3 350.3,386.1 351.6,386.8 352.8,386.8 354.1,387.4 355.4,388.0 356.7,388.2 357.9,388.3 359.1,387.8 360.6,389.2 362.0,389.5 363.2,389.1 364.6,389.6 365.8,389.0 366.9,388.6 368.2,388.4 369.7,388.9 371.0,388.8 372.2,388.5 373.6,388.5 374.8,388.0 376.1,387.8 377.3,387.3 378.8,387.6 380.4,388.2 381.7,387.8 382.7,386.8 383.7,386.0 385.0,385.7 386.6,385.9 387.9,385.6 388.9,384.6 390.2,384.3 391.5,383.9 392.6,383.2 393.9,382.7 394.8,381.7 396.1,381.3 397.3,380.7 397.9,379.2 399.4,379.0 400.4,378.2 401.2,377.0 402.3,376.2 403.6,375.8 405.0,375.5 406.0,374.6 406.7,373.3 406.9,371.4 408.2,370.9 409.7,370.7 410.0,369.0 410.4,367.6 411.1,366.5 411.4,364.9 412.3,363.9 413.2,363.1 414.1,362.2 415.1,361.3 415.8,360.2 416.9,359.5 417.5,358.3 417.3,356.5 417.1,354.7 417.8,353.7 417.3,351.7 416.4,349.5 416.2,348.0 416.9,347.0 416.6,345.4 416.3,343.8 417.8,343.3 418.3,342.2 418.4,340.9 421.4,341.4 425.2,342.1 427.9,342.2 430.3,342.0 432.5,341.6 435.6,341.6 438.0,341.3 439.8,340.6 441.7,339.9 443.9,339.3 445.6,338.4 447.3,337.5 447.8,336.1 448.9,334.9 450.3,333.9 451.6,332.7 454.4,332.0 455.7,330.8 455.8,329.2 456.5,327.8 457.3,326.4 459.0,325.2 460.6,324.0 461.6,322.6 463.5,321.3 463.9,319.8 464.2,318.2 464.9,316.6 465.6,315.1 467.2,313.7 467.0,312.0 467.2,310.3 467.9,308.7 468.6,307.1 468.7,305.5 469.3,303.8 470.9,302.3 470.7,300.6 470.7,298.9 471.4,297.2 472.2,295.5 471.9,293.8 471.5,292.1 470.3,290.5 469.7,288.8 469.8,287.1 469.3,285.5 468.0,283.9 467.3,282.3 467.6,280.6 467.4,279.0 465.6,277.6 464.8,276.1 464.7,274.4 464.5,272.8 464.0,271.2 463.0,269.8 462.4,268.3 461.3,266.8 459.6,265.6 458.4,264.3 458.2,262.7 457.6,261.3 455.8,260.2 455.3,258.7 454.0,257.5 453.5,256.0 451.6,255.1 450.0,254.0 448.9,252.9 447.1,251.9 446.4,250.6 444.6,249.8 442.2,249.3 440.6,248.5 439.9,247.2 438.1,246.5 436.7,245.7 434.5,245.3 432.4,244.9 429.5,245.0 426.8,245.1 423.9,245.3 422.0,245.0 420.2,244.7 421.0,242.7 421.1,241.1 420.8,239.8 420.5,238.5 420.0,237.3 419.9,235.7 419.7,234.2 419.4,232.8 419.1,231.3 418.0,230.6 418.3,228.6 418.8,226.3 418.0,225.3 416.8,224.5 416.4,223.1 414.9,222.6 413.6,222.0 413.2,220.5 412.2,219.5 411.2,218.7 410.6,217.3 408.6,217.5 407.1,217.2 406.4,215.9 404.6,216.1 402.7,216.4 401.9,215.2 401.2,214.0 399.9,213.5 398.7,213.0 397.5,212.5 396.0,212.4 395.3,211.0 394.3,210.2 392.4,210.8 391.5,209.8 391.0,208.1 390.1,206.9 388.3,207.5 386.8,207.6 385.3,207.8 383.9,207.6 382.0,208.7 380.5,209.1 379.1,209.2 377.9,208.8 376.4,209.3 375.1,209.3 374.0,208.9 372.7,208.8 370.8,210.8 369.5,210.7 368.4,210.5 367.1,210.7 365.9,210.7 364.8,210.6 363.5,210.8 362.3,210.8 361.3,210.0 360.3,209.5 359.2,209.0 358.0,209.1 356.6,210.5 355.3,211.8 354.0,212.5 352.8,213.3 351.7,213.9 350.5,214.2 349.4,215.0 348.2,217.2 347.0,219.9 345.9,221.4 344.8,223.6 343.9,224.5 342.9,223.2 342.0,224.0" stroke="#00ff80"/><path d="M342.0,227.3 341.1,225.8 340.1,224.2 339.1,222.6 338.1,221.5 337.1,220.6 336.0,219.7 334.9,217.9 333.7,216.3 332.7,216.9 331.5,215.9 330.1,213.4 329.0,213.5 327.7,212.4 326.1,209.7 324.6,208.3 323.3,207.7 322.3,208.4 320.9,207.8 319.2,205.9 317.9,205.5 316.6,205.4 315.3,205.5 314.1,205.6 312.7,205.3 311.2,204.6 309.6,204.1 308.3,204.1 307.0,204.3 305.6,204.4 304.2,204.3 302.8,204.3 301.2,203.9 299.4,203.1 298.0,203.2 296.4,203.1 294.9,203.0 293.6,203.6 292.6,204.6 291.3,205.0 289.9,205.2 288.9,206.3 287.8,207.1 287.0,208.3 286.2,209.6 285.5,211.0 285.0,212.5 284.3,213.8 283.1,214.4 282.0,215.1 281.4,216.5 281.0,218.1 280.3,219.3 279.7,220.6 279.2,222.0 278.6,223.2 278.1,224.6 276.8,225.0 275.8,225.8 275.7,227.4 275.3,228.8 274.4,229.6 274.1,231.1 273.3,232.0 271.9,232.3 271.3,233.5 270.3,234.3 269.5,235.2 267.9,235.5 266.5,236.0 267.0,238.0 265.5,238.4 264.8,239.4 263.8,240.3 263.1,241.2 262.0,242.0 261.4,243.1 259.7,243.6 258.5,244.3 257.1,245.0 255.2,245.4 253.2,245.8 250.2,245.7 247.8,245.9 246.8,247.0 243.6,247.0 239.1,246.4 236.4,246.8 234.8,247.8 233.3,248.8 231.2,249.6 229.8,250.8 229.0,252.1 227.5,253.3 225.7,254.3 224.5,255.6 223.7,257.1 222.5,258.4 221.3,259.7 221.3,261.5 220.8,263.0 219.5,264.4 219.2,266.0 219.4,267.8 218.6,269.3 218.1,270.9 218.3,272.6 216.4,273.9 216.3,275.6 216.7,277.3 216.0,278.9 216.0,280.6 215.0,282.1 214.4,283.8 214.3,285.4 215.3,287.2 215.2,288.9 214.6,290.5 214.6,292.2 214.2,293.8 213.9,295.5 214.3,297.2 214.6,298.8 214.7,300.5 214.1,302.2 213.9,303.9 214.3,305.6 214.8,307.2 214.4,308.9 214.6,310.6 215.3,312.2 216.9,313.6 218.4,315.1 217.8,316.8 219.2,318.3 220.6,319.7 221.2,321.2 221.5,322.8 222.3,324.2 224.2,325.4 224.9,326.9 226.2,328.2 228.9,329.0 230.0,330.3 231.3,331.5 233.6,332.3 235.0,333.4 236.0,334.6 238.6,335.2 240.5,336.0 242.3,336.8 244.8,337.3 246.1,338.2 247.7,339.0 251.1,338.9 253.4,339.2 255.5,339.6 258.6,339.4 261.3,339.3 263.1,339.7 265.0,339.9 267.1,340.0 267.2,341.3 266.9,342.9 266.1,344.8 266.3,346.1 265.9,347.8 265.5,349.6 265.2,351.3 264.1,353.7 264.1,355.3 265.1,356.1 265.2,357.7 265.2,359.4 265.3,361.0 265.4,362.7 265.7,364.2 266.8,365.0 266.6,367.1 267.1,368.5 268.3,369.2 268.9,370.5 269.6,371.8 271.8,371.5 273.5,371.6 273.5,373.6 274.9,374.1 276.3,374.5 277.5,375.2 279.0,375.5 280.0,376.3 281.8,376.1 282.7,377.1 284.2,377.3 285.7,377.5 287.0,377.8 288.4,378.0 289.6,378.5 290.9,378.9 292.0,379.6 293.5,379.4 295.3,379.0 296.0,380.3 296.7,381.5 298.2,381.5 299.4,381.9 300.7,382.2 302.5,381.2 304.2,380.3 305.5,380.5 306.7,380.7 307.9,381.1 309.0,381.4 310.7,380.4 312.0,380.3 313.0,380.9 314.6,380.0 315.6,380.6 316.7,380.8 318.1,380.1 319.4,380.0 320.2,381.3 321.4,381.4 322.6,381.1 323.8,380.9 325.0,381.0 326.0,382.0 327.2,381.5 328.6,380.1 329.8,379.9 331.0,379.1 332.0,379.6 333.1,380.1 334.4,378.1 335.1,374.3 335.8,374.8 336.8,374.6 337.9,374.0 339.0,373.0 340.0,372.4 341.0,371.3 342.0,370.1 343.0,371.5 344.0,372.4 345.1,373.9 346.2,374.8 347.2,375.3 348.4,376.2 349.2,377.7 349.6,378.2 350.6,377.7 351.9,379.0 353.0,378.9 354.0,378.3 355.2,379.1 356.4,379.2 357.4,378.4 358.7,379.3 359.9,379.9 361.1,380.1 362.2,379.7 363.3,379.5 364.5,379.4 365.4,378.5 366.7,378.9 368.1,379.6 369.0,378.5 369.9,377.6 371.1,377.6 372.3,377.5 373.3,377.0 374.2,376.2 375.5,376.3 376.6,376.0 377.1,374.4 377.8,373.2 378.9,372.9 380.2,373.1 381.5,373.1 382.1,371.7 383.0,371.1 384.2,370.9 385.0,370.1 385.9,369.3 386.4,368.0 386.9,366.7 388.2,366.7 389.1,366.0 389.7,364.8 390.7,364.5 391.2,363.3 391.9,362.4 392.9,361.8 393.7,361.1 394.2,359.9 394.1,358.2 391.6,354.6 390.9,352.7 390.3,350.6 389.7,348.5 388.9,346.2 388.5,344.5 387.7,342.4 386.3,339.8 389.8,342.0 393.5,344.4 396.4,345.8 399.8,347.5 403.6,349.5 404.6,349.0 405.2,348.1 406.6,347.8 408.0,347.5 408.8,346.8 409.2,345.6 410.1,345.0 411.2,344.4 412.9,344.3 414.7,344.1 415.1,343.0 415.3,341.7 416.1,340.9 418.7,341.1 421.6,341.4 423.5,341.1 424.4,340.3 426.6,340.0 429.8,340.2 432.6,340.2 434.9,339.8 436.9,339.2 438.5,338.5 439.7,337.5 440.1,336.1 441.2,335.1 443.0,334.3 445.2,333.6 446.6,332.6 446.9,331.1 448.8,330.2 450.2,329.1 450.5,327.6 451.8,326.5 453.5,325.4 454.4,324.0 455.2,322.7 457.0,321.5 458.0,320.2 459.1,318.8 460.4,317.4 460.5,315.9 460.9,314.3 461.9,312.9 462.6,311.4 463.7,309.9 464.4,308.4 465.8,306.9 466.1,305.3 466.7,303.7 467.5,302.1 467.3,300.4 467.6,298.8 468.1,297.2 468.8,295.5 468.6,293.8 468.7,292.2 469.0,290.5 468.8,288.9 468.2,287.2 467.5,285.6 466.5,284.1 466.7,282.4 466.7,280.7 465.0,279.3 463.8,277.8 463.2,276.3 463.3,274.7 462.2,273.2 461.3,271.8 461.0,270.2 458.9,269.0 457.6,267.7 457.1,266.3 457.2,264.6 456.0,263.3 453.8,262.4 451.6,261.5 450.2,260.3 448.8,259.3 446.9,258.4 445.6,257.3 444.4,256.2 441.9,255.7 440.0,254.9 439.4,253.7 438.1,252.7 436.0,252.2 434.4,251.4 432.6,250.8 430.6,250.4 429.1,249.7 427.1,249.3 425.3,248.8 421.8,249.4 418.8,249.8 415.0,250.7 411.7,251.5 411.5,250.4 411.2,249.3 411.9,247.5 411.5,246.4 412.0,244.6 412.8,242.7 413.3,240.8 413.8,238.9 414.3,237.0 413.7,235.9 413.9,234.1 414.1,232.3 413.2,231.4 413.2,229.7 412.3,228.8 411.2,228.1 410.6,226.9 410.3,225.4 409.1,224.8 407.4,224.7 406.3,224.1 406.5,222.0 405.2,221.5 403.3,221.8 401.9,221.6 400.9,220.8 399.3,220.9 397.6,221.0 397.2,219.5 396.9,217.8 396.1,216.7 393.9,217.8 392.3,218.0 391.7,216.7 390.9,215.7 389.2,216.2 388.5,214.9 387.2,214.7 385.8,214.8 384.6,214.6 383.5,214.0 382.6,213.2 381.2,213.4 379.9,213.2 378.7,213.1 377.5,213.0 376.1,213.3 374.6,213.8 372.9,215.0 372.1,214.0 370.7,214.4 369.1,215.8 367.8,216.1 366.8,215.8 366.2,213.8 364.8,214.6 363.4,215.5 362.3,215.6 361.4,214.7 360.5,213.7 359.3,213.9 358.2,213.9 357.2,213.4 356.2,212.9 355.0,213.1 353.8,214.3 352.6,214.7 351.5,215.3 350.3,216.5 349.1,218.7 347.8,221.3 346.8,222.7 345.7,224.9 344.7,227.7 343.8,228.3 342.9,227.7 342.0,228.0" stroke="#8000ff"/><path d="M342.0,226.0 341.1,224.7 340.1,222.9 339.1,221.5 338.0,220.0 337.0,218.7 335.9,217.9 334.7,216.6 333.6,215.8 332.4,214.6 331.1,212.7 329.9,211.7 328.7,211.7 327.5,210.8 325.9,208.9 324.5,207.6 323.3,207.6 322.0,207.3 320.4,205.6 319.0,204.8 317.6,204.4 316.3,204.5 314.9,203.9 313.4,203.5 311.9,202.8 310.2,201.7 308.9,202.0 307.5,202.0 305.9,201.5 304.5,201.5 302.9,201.2 301.3,200.9 300.2,201.5 298.8,201.7 297.6,202.3 296.2,202.7 294.4,202.1 292.9,202.1 291.5,202.5 290.3,203.2 288.5,202.9 287.5,203.9 286.8,205.4 285.8,206.4 285.7,208.8 284.6,209.6 283.4,210.3 282.6,211.5 281.6,212.4 281.0,213.8 280.6,215.4 279.9,216.7 279.2,217.9 278.6,219.2 278.1,220.7 277.4,221.9 276.4,222.7 275.5,223.5 275.3,225.2 274.6,226.4 273.1,226.6 272.5,227.7 272.7,229.7 271.6,230.5 269.7,230.4 268.2,230.7 267.7,232.0 266.9,233.1 265.4,233.5 265.0,234.8 264.4,236.0 263.0,236.5 262.0,237.4 260.3,237.8 258.3,238.0 258.4,239.6 257.7,240.8 256.2,241.4 254.1,241.7 252.4,242.2 251.8,243.4 249.0,243.4 246.9,243.8 245.3,244.6 242.1,244.6 239.2,244.8 236.0,244.9 234.6,246.0 233.8,247.3 231.9,248.2 229.2,248.8 226.8,249.5 225.0,250.6 224.3,252.1 223.4,253.5 222.7,255.0 222.0,256.5 220.3,257.7 219.2,259.1 218.2,260.6 217.7,262.2 216.9,263.7 216.6,265.4 215.8,267.0 215.5,268.6 215.0,270.2 215.4,272.0 215.3,273.7 213.8,275.2 214.9,277.1 214.5,278.7 213.2,280.3 212.8,281.9 212.6,283.6 213.1,285.4 213.1,287.1 213.7,288.8 214.2,290.5 213.0,292.1 212.7,293.8 213.4,295.5 213.5,297.2 213.7,298.9 212.8,300.6 212.7,302.3 213.6,303.9 213.7,305.6 214.8,307.2 215.7,308.8 215.4,310.5 215.2,312.2 216.2,313.7 216.8,315.3 217.3,316.9 218.5,318.4 219.5,319.9 220.4,321.4 221.2,322.8 223.0,324.1 224.4,325.4 225.5,326.7 226.5,328.1 227.6,329.4 229.7,330.4 230.9,331.6 233.3,332.4 235.8,333.1 236.1,334.6 238.3,335.3 241.1,335.8 242.9,336.5 244.3,337.5 246.3,338.1 248.4,338.7 251.1,338.8 253.5,339.1 255.1,339.8 258.1,339.6 261.6,339.1 264.2,339.1 265.0,339.9 265.3,341.1 265.4,342.4 265.2,344.0 266.0,344.9 266.5,345.9 265.6,348.0 265.0,349.9 265.3,351.3 265.4,352.7 266.2,353.7 267.1,354.5 267.6,355.7 267.4,357.5 267.1,359.5 267.8,360.5 269.0,361.2 270.0,362.0 270.3,363.5 271.0,364.7 271.7,365.8 272.3,367.0 272.9,368.3 274.2,368.8 274.6,370.3 275.4,371.5 276.3,372.5 277.7,372.8 279.2,373.1 280.2,373.9 280.6,375.5 281.6,376.3 283.7,375.8 284.6,376.6 285.5,377.7 286.5,378.6 288.0,378.6 289.3,379.0 290.1,380.1 291.3,380.7 292.9,380.5 294.7,380.0 296.1,380.1 296.7,381.7 297.6,382.7 298.9,382.8 300.5,382.6 302.2,381.9 303.3,382.4 304.4,383.0 305.8,382.9 307.1,382.9 308.6,382.6 310.0,382.3 311.1,382.6 312.2,383.3 313.5,383.2 315.1,382.2 316.4,382.1 317.5,382.5 318.8,382.2 319.8,382.9 321.2,382.3 322.3,382.4 323.4,382.8 324.9,381.6 326.1,381.5 327.2,381.5 328.4,381.3 329.5,381.4 330.7,381.0 331.9,381.1 333.0,380.9 334.2,380.3 335.4,379.3 336.5,379.1 337.6,378.7 338.8,377.1 339.9,375.7 340.9,375.8 342.0,376.3 343.1,377.4 344.1,377.1 345.2,377.7 346.4,379.1 347.5,378.9 348.6,379.3 349.7,379.8 350.9,379.7 351.9,379.1 353.1,379.5 354.3,380.4 355.6,381.1 356.9,382.3 358.0,381.7 359.0,381.0 360.3,381.6 361.6,382.0 362.7,381.9 363.6,380.7 364.9,380.9 366.3,381.5 367.2,380.4 368.5,380.8 369.9,381.5 370.9,380.5 371.9,379.9 373.0,379.6 374.0,379.0 375.1,378.4 376.2,378.1 377.2,377.4 378.0,376.3 379.1,375.9 380.2,375.7 381.5,375.6 382.5,375.0 383.4,374.3 384.6,373.9 385.1,372.5 386.1,371.9 387.7,372.3 388.9,372.1 389.4,370.6 389.8,369.1 390.9,368.7 392.3,368.7 393.2,367.9 393.2,366.0 394.0,365.1 394.5,363.9 395.2,363.0 396.3,362.6 396.5,361.0 397.6,360.6 395.0,356.5 394.1,354.9 393.5,352.7 392.2,349.8 390.8,347.0 389.6,344.4 388.1,341.6 391.5,343.7 395.4,346.2 398.9,348.1 401.5,349.1 405.0,350.7 406.5,350.6 407.4,349.9 408.1,349.0 409.6,348.8 410.4,347.9 411.7,347.5 412.2,346.5 412.3,345.2 413.6,344.7 414.3,343.8 415.4,343.2 416.7,342.6 417.4,341.7 418.5,341.0 421.1,341.2 424.0,341.4 425.9,341.0 428.5,341.0 430.2,340.5 432.7,340.2 436.7,340.7 438.4,340.0 439.5,338.9 440.6,337.9 441.7,336.8 443.7,336.1 445.6,335.3 446.2,333.9 446.8,332.6 448.1,331.5 449.4,330.4 451.9,329.6 453.9,328.7 455.0,327.4 456.6,326.2 458.3,325.0 458.2,323.4 458.6,321.9 460.5,320.7 461.4,319.2 462.5,317.8 462.5,316.2 463.6,314.8 464.4,313.2 464.6,311.6 466.1,310.2 466.7,308.6 467.0,307.0 467.1,305.3 467.8,303.7 467.9,302.1 467.9,300.4 468.9,298.8 469.5,297.2 469.9,295.5 470.2,293.8 470.5,292.1 470.1,290.5 469.6,288.8 468.7,287.2 468.4,285.6 467.7,283.9 467.0,282.4 466.0,280.8 465.0,279.3 464.9,277.7 464.9,276.0 464.4,274.5 462.9,273.1 461.7,271.7 461.5,270.1 460.3,268.7 459.1,267.4 458.8,265.8 458.4,264.3 457.3,263.0 456.0,261.7 455.5,260.3 454.5,259.0 452.7,257.9 450.8,257.0 449.0,256.0 447.5,255.0 445.4,254.2 443.4,253.5 442.1,252.5 440.9,251.5 439.1,250.8 436.8,250.3 436.0,249.2 434.5,248.3 432.3,248.0 430.5,247.5 428.3,247.2 425.1,247.5 422.1,247.8 418.7,248.5 415.6,249.1 414.2,248.6 414.3,247.2 415.4,245.0 415.5,243.5 415.2,242.3 415.9,240.3 415.4,239.2 414.6,238.3 415.1,236.3 414.9,234.8 414.6,233.5 414.7,231.8 414.9,229.9 413.8,229.1 412.5,228.6 411.8,227.5 411.3,226.2 410.5,225.2 409.8,224.1 409.7,222.3 408.3,221.9 407.0,221.4 406.4,220.1 405.6,219.0 404.3,218.6 404.1,216.7 403.5,215.3 402.9,214.0 401.0,214.3 399.0,214.9 398.0,214.1 396.6,213.8 395.7,212.9 394.8,211.8 393.8,210.9 392.1,211.2 390.5,211.4 389.2,211.2 388.4,210.0 387.6,208.9 385.9,209.3 384.4,209.5 383.2,209.2 381.8,209.1 380.6,208.8 379.1,209.1 377.9,208.8 376.8,208.3 375.5,208.2 374.6,207.2 373.4,206.9 371.9,207.4 370.3,208.4 369.1,208.3 367.8,208.5 366.3,209.4 365.2,208.9 363.9,209.1 362.8,208.8 361.4,209.6 360.3,209.6 359.0,210.1 357.7,210.8 356.6,210.7 355.3,211.7 353.9,213.5 352.7,214.3 351.5,215.0 350.4,215.3 349.3,216.4 348.0,218.9 346.9,220.6 345.8,222.1 344.8,224.6 343.8,225.7 342.9,225.1 342.0,225.1" stroke="#808080"/><path d="M342.0,226.9 341.1,225.9 340.1,223.6 339.1,221.6 338.1,220.8 337.0,219.3 335.9,218.2 334.8,217.6 333.7,216.4 332.6,215.9 331.3,214.4 329.9,212.0 328.7,211.3 327.5,210.9 326.1,209.5 324.9,209.5 323.6,208.9 322.0,207.3 320.8,207.3 319.6,207.2 318.0,205.8 316.6,205.6 315.4,205.8 314.0,205.3 312.5,204.6 310.8,203.6 309.4,203.6 307.7,202.6 306.3,202.4 305.4,203.7 303.9,203.5 302.1,202.6 300.8,203.0 299.7,203.7 298.3,203.9 297.1,204.4 295.5,204.3 294.2,204.7 292.7,204.8 290.8,204.1 289.2,204.1 288.5,205.5 287.9,207.2 286.9,208.2 285.9,209.1 285.1,210.3 284.5,211.9 283.7,213.0 282.8,214.0 281.7,214.7 281.0,216.1 280.2,217.1 279.2,217.9 278.9,219.6 278.5,221.2 278.2,222.7 276.9,223.2 276.1,224.2 275.2,225.1 274.3,226.0 274.4,227.9 274.4,229.7 274.4,231.4 273.4,232.1 272.4,232.8 270.8,233.1 269.7,233.7 269.1,234.9 268.9,236.3 268.7,237.7 266.7,237.8 266.2,238.9 265.3,239.8 263.7,240.1 263.1,241.3 262.9,242.6 261.7,243.4 260.6,244.1 260.3,245.4 259.4,246.4 257.7,246.8 254.9,246.7 253.1,247.2 250.9,247.6 247.7,247.5 244.3,247.3 241.4,247.5 238.3,247.7 235.7,248.2 233.6,248.9 232.4,250.1 230.9,251.2 228.7,252.0 227.2,253.2 226.6,254.6 226.4,256.3 224.5,257.3 223.1,258.6 223.7,260.5 223.5,262.1 222.2,263.4 220.9,264.8 220.0,266.2 220.0,267.9 219.8,269.5 219.6,271.2 219.1,272.7 217.9,274.2 217.2,275.7 217.6,277.5 217.2,279.1 216.1,280.6 216.7,282.3 217.3,284.0 216.4,285.6 216.7,287.3 216.3,288.9 215.4,290.5 216.1,292.2 216.1,293.9 216.0,295.5 216.6,297.1 217.6,298.8 216.9,300.4 214.9,302.2 214.9,303.8 215.6,305.4 216.5,307.0 217.6,308.6 217.7,310.2 218.4,311.8 219.0,313.3 219.2,314.9 219.9,316.5 221.1,317.9 221.6,319.4 223.4,320.7 224.3,322.1 224.1,323.8 224.7,325.3 226.3,326.5 228.6,327.5 230.2,328.6 231.6,329.8 232.9,330.9 234.3,332.0 236.4,332.9 237.7,334.0 239.5,334.8 240.9,335.8 242.8,336.6 244.5,337.4 246.8,337.9 249.4,338.2 251.4,338.7 254.0,338.9 255.7,339.5 258.0,339.7 261.7,339.1 264.9,338.7 265.5,339.7 265.1,341.2 265.8,342.2 265.9,343.5 265.8,345.0 265.6,346.5 265.5,348.1 265.9,349.3 265.9,350.8 265.5,352.7 265.2,354.5 266.2,355.3 266.8,356.4 266.6,358.2 268.0,358.7 269.3,359.3 269.2,361.1 269.0,363.0 270.4,363.5 271.4,364.2 272.7,364.8 272.9,366.5 273.1,368.1 274.1,369.0 275.7,369.1 277.2,369.4 277.6,371.0 278.3,372.1 279.1,373.1 280.7,373.3 282.0,373.7 284.1,373.1 285.2,373.7 285.9,374.9 286.6,376.1 287.6,376.9 289.3,376.6 290.4,377.2 291.4,378.1 292.2,379.2 293.1,380.3 295.2,379.0 296.7,378.9 297.7,379.7 298.9,380.1 300.0,380.7 301.4,380.7 302.8,380.5 303.8,381.4 304.9,381.9 306.3,381.7 307.8,381.2 308.9,381.7 310.1,382.0 310.9,383.2 312.2,383.4 313.7,382.6 314.9,382.8 316.0,383.4 317.4,382.8 318.6,382.9 319.8,382.8 321.1,382.4 322.4,382.2 323.7,381.6 324.8,382.0 326.0,381.7 327.1,382.5 328.1,383.2 329.4,382.4 330.6,381.9 331.7,382.6 332.9,381.7 334.2,379.9 335.5,378.3 336.6,378.2 337.7,377.6 338.8,376.3 339.9,375.5 341.0,375.4 342.0,374.8 343.1,376.1 344.1,376.4 345.2,376.3 346.2,376.3 347.3,376.0 348.3,375.8 349.4,376.0 350.6,377.4 351.7,377.5 352.7,376.9 353.9,377.5 355.0,377.6 356.1,377.6 357.3,377.9 358.4,378.2 359.5,377.8 360.5,377.3 361.6,377.2 362.8,377.2 364.1,377.9 365.4,378.4 366.2,377.2 367.1,376.2 368.4,376.6 369.3,375.9 370.0,374.5 371.3,374.9 372.4,374.6 373.3,374.0 374.6,374.2 375.5,373.5 376.4,372.8 377.1,371.6 378.2,371.4 379.4,371.4 380.1,370.2 380.6,368.8 381.7,368.6 382.5,367.8 383.0,366.5 384.1,366.3 384.6,365.1 385.3,364.2 386.2,363.6 386.6,362.2 387.2,361.3 388.0,360.6 388.5,359.6 389.2,358.7 390.1,358.2 390.7,357.3 391.0,355.9 391.2,354.7 391.7,353.7 391.9,352.4 392.1,351.1 392.4,350.1 392.6,348.8 393.8,348.6 395.2,348.7 396.2,348.3 397.3,347.9 397.9,347.2 399.1,346.9 400.0,346.4 401.3,346.2 403.7,346.8 404.7,346.3 405.7,345.7 407.2,345.5 408.1,344.8 409.4,344.5 411.1,344.3 411.8,343.4 413.0,342.9 414.7,342.7 415.9,342.1 417.0,341.5 418.2,340.9 420.8,341.0 423.5,341.2 425.9,341.1 428.0,340.7 429.9,340.3 433.0,340.4 434.9,339.8 436.4,339.0 437.9,338.2 438.9,337.1 440.6,336.4 442.0,335.4 443.4,334.4 444.6,333.3 446.7,332.6 448.7,331.7 449.6,330.5 451.3,329.4 451.9,328.1 452.8,326.8 454.6,325.7 455.5,324.3 457.4,323.2 459.1,322.0 459.4,320.5 460.2,319.0 460.5,317.5 461.6,316.1 462.6,314.6 463.3,313.1 464.1,311.6 465.3,310.1 466.3,308.6 466.2,306.9 466.5,305.3 467.3,303.7 467.9,302.1 467.8,300.4 467.7,298.8 468.0,297.1 468.8,295.5 469.3,293.8 469.2,292.2 469.2,290.5 469.0,288.8 468.1,287.2 467.7,285.6 466.6,284.0 466.0,282.5 466.4,280.8 466.2,279.2 464.4,277.7 463.8,276.2 462.6,274.8 461.0,273.4 460.6,271.9 460.0,270.4 458.6,269.1 458.1,267.6 458.3,266.0 456.7,264.8 455.1,263.6 452.4,262.8 451.2,261.6 450.8,260.2 449.4,259.1 448.2,257.9 445.6,257.3 444.0,256.4 442.4,255.4 440.6,254.6 438.9,253.9 438.0,252.7 437.5,251.5 435.8,250.7 434.0,250.1 432.8,249.2 431.7,248.3 428.9,248.3 425.5,248.7 423.4,248.5 421.2,248.4 417.4,249.3 414.3,249.9 414.0,248.8 413.5,247.7 412.5,247.1 412.8,245.5 413.6,243.5 413.9,241.8 413.5,240.7 413.9,238.8 414.0,237.2 413.9,235.7 413.5,234.4 414.0,232.3 413.8,230.9 412.5,230.3 411.0,230.0 410.2,229.0 410.2,227.3 409.1,226.6 408.1,225.8 408.1,224.0 407.1,223.1 405.9,222.6 405.4,221.2 404.4,220.4 402.8,220.4 401.5,220.0 400.5,219.2 399.0,219.2 397.2,219.6 396.1,218.9 395.0,218.3 394.1,217.5 393.4,216.3 392.2,216.0 390.9,215.8 389.4,215.8 387.7,216.3 387.0,215.2 385.9,214.6 384.7,214.3 383.5,214.1 381.9,214.6 380.6,214.6 379.5,214.1 378.5,213.6 377.2,213.6 376.3,212.7 375.2,212.4 373.7,213.0 372.4,213.1 371.0,213.5 369.7,214.0 368.8,212.9 367.7,212.7 366.7,212.2 365.5,212.2 364.2,212.6 363.3,211.7 362.0,212.1 360.6,213.2 359.6,212.9 358.2,214.2 356.9,215.2 356.0,213.8 354.9,213.8 353.5,215.9 352.3,217.1 351.3,217.3 350.2,217.1 349.2,217.1 348.0,219.4 346.8,222.3 345.7,224.3 344.7,226.4 343.8,226.5 342.9,226.2 342.0,226.7" stroke="#ff0000" stroke-dasharray="4 2"/><path d="M342.0,227.0 341.1,225.7 340.1,223.5 339.1,221.7 338.1,220.3 337.0,219.0 335.9,217.9 334.8,217.1 333.7,216.2 332.5,215.4 331.3,214.0 330.0,212.8 328.7,211.4 327.4,210.5 326.1,209.8 324.8,208.8 323.4,207.9 321.8,206.1 320.4,205.4 319.0,204.9 317.6,204.3 315.9,202.8 314.3,202.1 313.3,203.0 311.9,203.0 310.3,202.2 308.6,201.1 307.2,201.2 306.0,201.8 304.5,201.4 302.5,200.2 300.7,199.4 299.2,199.5 298.2,200.5 296.7,200.6 294.7,199.5 293.2,199.7 292.2,200.8 290.5,200.7 288.5,200.0 287.2,200.6 286.1,201.5 284.9,202.4 284.4,204.2 283.9,206.1 283.1,207.4 282.0,208.2 281.3,209.6 281.2,211.8 280.2,212.8 279.1,213.5 278.5,214.9 278.1,216.5 277.6,218.0 276.7,219.1 276.3,220.6 275.8,222.0 275.3,223.3 274.6,224.4 273.8,225.5 273.1,226.6 272.2,227.5 271.6,228.7 270.3,229.3 269.3,230.0 268.4,230.9 267.8,232.1 266.7,232.9 265.3,233.4 264.5,234.4 263.0,234.9 262.1,235.8 262.2,237.5 260.8,238.1 260.4,239.4 258.8,239.9 258.1,241.0 256.0,241.2 254.3,241.7 253.9,243.1 252.6,243.9 250.2,244.1 248.8,244.9 245.9,245.0 242.7,244.9 240.0,245.2 238.2,246.0 236.0,246.6 232.9,246.9 231.3,247.9 230.1,249.1 228.0,250.0 226.2,251.0 224.2,252.1 223.1,253.4 223.0,255.1 222.0,256.5 221.3,258.0 220.5,259.5 219.4,260.9 219.1,262.6 217.6,263.9 216.3,265.3 217.3,267.3 216.8,268.9 214.9,270.2 214.8,271.9 214.8,273.6 214.1,275.2 213.5,276.9 213.1,278.5 213.7,280.3 214.2,282.1 213.6,283.7 213.7,285.4 214.4,287.1 213.2,288.7 211.9,290.4 212.5,292.1 213.1,293.8 212.9,295.5 212.9,297.2 212.7,298.9 213.4,300.6 213.7,302.2 213.5,303.9 213.9,305.6 214.8,307.2 215.5,308.8 215.5,310.5 216.4,312.0 217.6,313.5 218.0,315.1 218.2,316.8 219.0,318.3 220.2,319.7 221.0,321.2 221.0,322.9 222.0,324.3 223.1,325.7 224.3,327.0 225.8,328.3 227.0,329.6 229.0,330.6 230.8,331.6 231.7,332.9 233.3,334.0 236.0,334.6 237.3,335.7 238.2,336.9 240.8,337.4 243.9,337.7 246.1,338.2 247.4,339.1 249.3,339.7 252.2,339.8 253.9,340.4 255.8,340.8 259.7,340.2 263.7,339.3 264.7,340.1 264.2,341.8 264.5,343.0 264.0,344.7 263.1,346.7 262.6,348.6 262.3,350.3 262.2,351.9 261.7,353.8 261.7,355.4 261.1,357.5 261.0,359.4 261.0,361.1 261.2,362.7 261.8,364.0 262.3,365.4 262.6,367.0 263.4,368.1 263.3,370.2 264.2,371.3 265.7,371.8 266.9,372.6 268.3,373.1 269.5,374.0 270.1,375.4 271.0,376.4 272.7,376.7 273.3,378.1 274.3,379.1 275.8,379.4 277.8,379.2 278.7,380.3 279.5,381.5 280.9,381.9 282.4,382.2 283.9,382.5 285.2,383.0 286.8,383.0 288.5,382.8 290.2,382.6 292.0,382.1 293.3,382.5 294.4,383.1 295.7,383.4 297.1,383.5 298.6,383.5 299.8,383.9 301.1,384.2 302.7,383.7 304.2,383.6 305.3,384.1 306.7,383.9 308.0,384.1 309.3,384.1 311.0,383.0 312.2,383.4 313.4,383.4 314.8,383.2 315.8,383.8 317.2,383.4 318.3,383.9 319.5,384.1 320.8,383.9 322.1,383.6 323.3,383.4 324.6,383.0 325.8,383.1 326.9,383.2 328.2,382.9 329.4,382.3 330.5,382.9 331.8,381.5 333.1,380.4 334.1,381.1 335.3,380.1 336.5,379.8 337.6,380.4 338.7,379.8 339.8,379.3 340.9,379.0 342.0,378.9 343.1,379.5 344.2,380.1 345.3,380.5 346.5,380.8 347.6,380.2 348.7,380.3 349.8,380.0 350.9,380.0 352.1,380.9 353.3,381.2 354.5,381.5 355.7,381.8 356.9,382.0 358.0,381.6 359.2,381.8 360.6,383.0 361.8,382.9 362.7,381.9 363.8,381.4 365.1,381.5 366.5,382.2 367.5,381.6 368.6,381.2 370.0,381.6 370.8,380.3 371.8,379.7 373.1,379.9 374.3,379.6 375.6,379.8 376.8,379.6 377.9,379.0 378.8,378.2 379.9,377.8 381.1,377.5 382.0,376.6 382.8,375.5 383.8,374.9 385.0,374.7 385.7,373.6 386.6,372.7 387.7,372.3 388.5,371.3 389.7,371.2 390.8,370.6 391.4,369.4 392.1,368.5 392.8,367.4 393.9,366.9 395.3,366.9 396.3,366.2 396.1,364.1 396.3,362.5 397.4,362.1 398.1,361.2 398.1,359.5 398.7,358.5 399.9,358.1 400.2,356.8 400.7,355.8 401.8,355.3 402.9,354.9 404.4,354.7 405.8,354.5 406.4,353.5 406.5,352.1 407.6,351.6 408.8,351.1 409.3,350.0 410.1,349.2 411.1,348.5 411.9,347.7 412.8,346.9 413.1,345.8 414.1,345.0 414.7,344.1 415.2,343.1 416.9,342.7 418.3,342.3 419.3,341.5 422.1,341.8 425.6,342.3 428.5,342.5 430.5,342.1 432.5,341.6 435.1,341.4 437.0,340.8 439.2,340.3 441.0,339.6 442.0,338.5 442.6,337.2 444.6,336.4 446.2,335.5 447.9,334.6 449.6,333.6 450.4,332.3 451.3,331.0 451.6,329.5 452.9,328.3 454.7,327.3 456.1,326.1 457.5,324.8 458.0,323.4 459.0,322.0 461.0,320.8 462.3,319.4 463.2,318.0 463.4,316.4 463.5,314.7 464.5,313.3 466.3,311.9 466.8,310.3 466.3,308.6 467.3,307.0 468.0,305.4 467.6,303.7 468.7,302.1 469.6,300.5 469.2,298.8 469.3,297.2 470.0,295.5 470.5,293.8 471.3,292.1 470.5,290.5 470.2,288.8 469.5,287.1 469.4,285.5 469.5,283.8 468.7,282.2 468.6,280.5 467.7,278.9 466.6,277.4 466.5,275.8 465.1,274.4 463.6,273.0 463.8,271.3 463.1,269.8 462.0,268.3 460.6,267.0 459.0,265.8 458.7,264.2 457.6,262.9 455.5,261.9 454.8,260.5 453.4,259.3 451.7,258.3 451.0,256.9 449.4,255.9 447.3,255.1 446.0,254.0 444.9,252.9 442.8,252.2 440.9,251.5 439.3,250.6 438.2,249.6 436.7,248.8 434.8,248.2 434.1,247.0 431.5,246.9 428.4,247.1 425.5,247.3 422.8,247.4 419.1,248.2 416.2,248.7 414.3,248.5 414.4,247.1 414.6,245.6 413.8,244.7 414.5,242.8 414.4,241.5 414.3,240.0 415.1,237.9 415.2,236.3 415.0,234.7 415.0,233.2 414.5,231.9 414.3,230.4 413.4,229.5 412.6,228.5 412.3,227.0 411.2,226.3 410.0,225.7 410.4,223.5 409.8,222.2 408.7,221.4 407.7,220.6 406.3,220.2 405.7,218.9 404.7,218.1 402.7,218.5 401.0,218.5 400.4,217.2 399.3,216.6 397.9,216.4 396.8,215.8 395.3,215.7 394.3,215.0 393.5,213.8 392.6,212.9 391.5,212.2 390.1,212.2 388.7,212.1 387.8,211.2 386.5,210.9 385.4,210.4 384.6,209.2 383.3,209.0 382.0,208.7 380.2,209.7 378.5,210.6 377.6,209.5 376.0,210.2 374.5,210.7 373.8,209.3 372.2,210.1 370.8,210.7 369.3,211.4 367.9,212.2 366.6,212.4 365.7,211.6 364.6,211.2 363.3,211.8 361.7,213.5 360.7,212.6 359.7,212.0 358.5,212.5 357.3,212.9 356.2,212.9 355.2,212.4 354.0,213.0 352.8,213.8 351.6,214.4 350.5,214.8 349.3,216.0 348.0,218.7 346.9,220.8 345.8,222.6 344.8,224.9 343.8,225.2 342.9,225.2 342.0,226.0" stroke="#00ff00" stroke-dasharray="4 2"/><path d="M342.0,248.0 341.3,241.9 340.4,235.7 339.5,230.8 338.4,226.8 337.2,222.7 336.1,220.2 334.9,218.6 333.9,218.4 332.9,218.5 331.7,217.5 330.4,215.6 329.2,214.5 328.0,214.0 326.8,213.3 325.3,211.6 323.9,210.2 322.8,210.5 321.5,209.9 320.1,209.1 318.8,209.0 317.3,207.8 315.7,206.7 314.5,206.9 313.2,206.9 311.9,206.8 310.4,206.3 308.9,205.9 307.0,204.3 305.5,204.1 304.6,205.2 303.4,205.6 302.0,205.7 300.5,205.4 299.1,205.5 297.5,205.3 295.7,204.5 294.6,205.3 293.2,205.6 291.5,205.3 290.4,206.1 290.0,208.0 289.3,209.5 288.1,210.1 287.4,211.4 286.6,212.6 286.1,214.2 285.2,215.2 284.4,216.3 283.8,217.6 282.7,218.2 281.6,218.8 281.2,220.4 281.0,222.1 280.6,222.3 280.5,223.5 280.2,225.0 279.2,225.7 278.4,226.7 277.4,227.5 276.5,228.3 276.4,229.9 276.5,231.7 276.6,233.5 276.2,234.1 275.4,233.9 274.9,235.1 274.8,236.6 274.4,237.8 273.1,238.2 272.3,239.1 272.5,240.7 272.7,241.3 272.3,242.0 270.7,242.3 269.3,242.7 268.7,243.7 267.3,244.2 265.9,244.2 264.8,243.9 262.4,243.8 259.1,243.2 256.4,243.0 254.8,243.6 252.4,243.7 249.1,243.5 246.2,243.5 243.3,243.6 239.9,243.5 245.4,247.8 242.1,247.8 239.5,248.2 235.8,248.2 234.2,249.2 233.4,250.5 232.0,251.6 229.8,252.4 227.3,253.2 226.5,254.6 225.9,256.1 224.9,257.4 224.3,259.0 223.3,260.3 221.8,261.6 221.7,263.3 221.6,264.9 220.8,266.4 219.2,267.7 219.0,269.4 218.7,271.0 217.9,272.5 217.6,274.1 217.4,275.8 217.2,277.4 216.7,279.0 215.6,280.5 215.5,282.2 216.0,283.9 215.4,285.5 215.6,287.2 216.5,288.9 215.9,290.5 215.6,292.2 216.6,293.9 216.7,295.5 215.9,297.2 216.0,298.8 215.4,300.5 215.7,302.1 217.0,303.7 217.8,305.3 217.3,307.0 217.6,308.6 217.6,310.2 217.6,311.9 218.8,313.4 219.7,314.9 220.1,316.5 221.1,317.9 222.4,319.3 222.2,321.0 223.3,322.4 224.9,323.6 225.7,325.0 227.7,326.1 228.6,327.5 229.9,328.7 230.6,330.1 232.0,331.2 233.9,332.2 235.8,333.1 238.6,333.6 240.2,334.6 241.2,335.7 243.5,336.3 246.3,336.6 248.2,337.3 250.4,337.7 252.3,338.3 254.3,338.8 256.7,339.0 259.0,339.2 262.1,338.9 265.0,338.6 266.2,339.3 267.1,340.1 267.0,341.4 266.6,343.1 266.3,344.7 266.6,345.9 266.9,347.1 266.5,348.8 267.1,349.9 267.7,351.0 267.0,353.0 268.1,353.7 268.7,354.9 268.5,356.6 268.9,358.0 269.3,359.3 271.0,359.5 272.4,359.8 273.2,360.8 273.9,361.9 274.6,362.9 275.1,364.2 275.5,365.6 277.2,365.6 278.6,365.9 279.9,366.3 280.3,367.7 280.9,369.0 282.4,369.0 283.6,369.6 284.5,370.4 285.9,370.7 286.9,371.3 287.6,372.5 288.5,373.4 289.9,373.5 290.8,374.3 291.8,375.1 293.2,375.1 294.3,375.7 295.1,376.7 296.5,376.8 298.0,376.6 298.9,377.3 299.9,378.2 300.9,378.9 302.2,379.0 303.5,378.9 304.8,379.1 306.1,379.0 307.4,379.1 308.7,379.0 309.7,379.7 311.0,379.5 312.3,379.3 313.3,379.9 314.4,380.4 315.6,380.4 316.8,380.5 318.0,380.4 319.3,380.2 320.2,381.2 321.4,381.3 322.8,380.2 324.1,379.9 325.0,380.7 326.2,380.7 327.4,380.7 328.4,381.2 329.6,381.3 330.9,379.9 332.1,378.8 333.3,378.7 334.4,377.8 335.6,376.9 336.7,376.6 337.8,376.6 338.8,376.7 339.9,375.7 341.0,375.6 342.0,375.0 343.0,374.6 344.1,374.5 345.2,375.7 346.2,376.3 347.3,376.1 348.4,376.9 349.5,377.4 350.6,376.9 351.7,377.4 352.9,378.3 354.0,377.9 355.1,378.2 356.3,378.7 357.6,379.4 358.6,378.9 359.5,377.8 360.8,378.6 362.0,378.9 363.1,378.8 364.2,378.3 365.2,377.9 366.5,378.2 367.8,378.4 368.8,378.1 369.8,377.3 370.9,377.2 371.9,376.7 372.8,375.7 373.8,375.3 374.9,374.8 375.8,374.1 376.7,373.4 377.8,373.1 378.7,372.5 379.7,371.9 380.6,371.3 381.6,370.8 382.2,369.5 382.8,368.3 384.3,368.8 385.4,368.4 385.9,367.2 386.4,365.9 386.8,364.4 387.4,363.4 388.1,362.5 388.8,361.8 389.6,361.1 390.3,360.2 390.6,358.8 391.9,358.8 393.0,358.4 393.3,357.1 392.9,355.1 392.9,353.5 394.2,353.5 394.9,352.7 395.4,351.8 395.6,350.6 396.0,349.5 397.4,349.4 398.9,349.5 399.9,349.0 401.2,348.8 402.2,348.3 402.7,347.4 403.7,346.8 405.4,346.8 406.7,346.5 407.5,345.8 409.0,345.5 410.3,345.1 410.3,343.8 411.3,343.1 413.3,343.1 414.7,342.7 416.2,342.3 417.7,341.9 418.1,340.8 420.0,340.5 423.1,340.9 425.5,340.8 427.5,340.5 429.2,339.9 431.1,339.4 433.5,339.1 436.5,339.1 438.0,338.2 439.0,337.2 440.6,336.4 441.5,335.2 442.2,333.9 443.7,333.0 445.5,332.2 447.5,331.3 448.2,330.0 449.7,328.9 451.0,327.8 452.0,326.5 453.2,325.3 454.1,324.0 455.5,322.8 457.5,321.6 458.3,320.2 458.9,318.8 460.0,317.4 460.9,315.9 462.1,314.5 463.8,313.2 464.7,311.6 465.1,310.1 466.3,308.6 466.5,306.9 466.5,305.3 467.7,303.7 468.2,302.1 468.7,300.5 469.8,298.8 469.6,297.2 469.0,295.5 468.0,293.9 468.8,292.2 469.7,290.5 469.0,288.8 468.2,287.2 467.6,285.6 466.9,284.0 466.4,282.4 465.3,280.9 464.6,279.4 464.1,277.8 462.9,276.4 462.2,274.9 461.6,273.3 460.8,271.9 460.6,270.3 459.3,269.0 457.7,267.7 456.6,266.4 455.7,265.0 454.3,263.8 452.8,262.7 450.9,261.7 449.8,260.5 448.3,259.4 446.2,258.6 445.0,257.5 443.8,256.4 442.2,255.5 440.7,254.6 438.1,254.2 436.5,253.4 435.8,252.2 434.0,251.6 432.4,250.9 430.8,250.3 429.3,249.6 426.7,249.5 423.3,250.0 420.3,250.3 422.8,247.9 417.8,250.4 400.1,259.9 392.5,264.2 373.6,275.6 380.8,271.0 401.7,257.6 406.2,253.8 410.7,249.6 415.2,245.2 411.1,246.6 412.8,244.1 413.4,242.2 412.7,241.3 412.4,240.0 413.0,238.0 413.6,235.9 412.9,235.0 413.2,233.1 413.3,231.3 412.5,230.4 411.6,229.4 411.0,228.3 410.5,227.0 409.5,226.2 407.8,226.1 407.8,224.3 407.5,222.7 406.5,222.0 405.4,221.3 404.7,220.1 403.3,219.9 401.5,220.1 401.0,218.6 400.1,217.8 398.9,217.2 397.5,217.0 395.9,217.0 394.5,217.0 393.3,216.5 392.0,216.2 390.5,216.4 389.8,215.2 389.2,213.8 387.7,213.9 386.5,213.6 385.5,212.7 384.3,212.5 382.5,213.4 381.4,212.8 380.1,212.8 378.4,213.7 377.3,213.4 375.8,213.9 374.5,214.0 373.4,213.7 372.0,214.1 370.9,213.8 369.6,214.1 368.1,215.2 366.7,216.1 365.5,216.0 364.6,215.5 363.3,215.9 362.2,216.1 361.2,215.5 360.1,215.4 358.9,216.2 357.6,217.0 356.6,216.5 355.5,217.0 354.3,217.8 353.2,218.2 352.1,218.8 350.9,219.9 349.8,221.5 348.7,222.1 347.7,223.1 346.6,224.9 345.6,226.2 344.5,231.4 343.6,236.1 342.7,241.3 342.0,247.9" stroke="#0000ff" stroke-dasharray="4 2"/><path d="M342.0,223.3 341.0,221.7 340.0,219.8 339.0,218.7 337.9,217.7 336.9,217.0 335.8,216.2 334.6,214.8 333.4,213.3 332.2,212.6 331.0,211.7 329.6,209.7 328.3,208.7 327.0,208.5 325.6,207.1 324.5,207.3 323.0,206.3 321.5,205.0 320.0,203.7 318.5,203.0 317.2,203.1 315.8,202.5 314.4,202.2 312.8,201.4 311.2,200.8 309.8,200.5 308.2,200.0 306.7,199.8 304.9,198.9 303.3,198.6 301.8,198.4 300.1,198.0 298.7,198.3 297.4,198.8 296.2,199.5 295.0,200.3 293.3,199.9 291.5,199.6 289.8,199.4 288.8,200.4 287.6,201.2 286.0,201.4 285.5,203.3 285.0,205.2 283.4,205.2 282.4,206.3 282.2,208.5 281.2,209.5 280.0,210.2 279.8,212.1 279.8,214.4 278.9,215.4 277.6,216.0 277.2,217.6 276.9,219.3 275.4,219.5 274.7,220.8 274.0,221.9 273.1,222.9 272.2,223.9 271.4,224.9 271.0,226.3 270.0,227.2 268.8,227.8 267.3,228.2 266.2,229.1 264.7,229.5 263.5,230.2 262.7,231.3 262.6,232.9 261.3,233.5 259.7,234.0 257.1,233.9 253.8,233.2 253.5,234.7 252.6,235.8 253.3,237.9 252.3,238.9 250.4,239.3 249.0,240.2 246.4,240.3 245.2,241.3 243.3,241.9 240.9,242.3 238.9,243.0 236.3,243.4 234.1,244.0 233.1,245.3 231.4,246.3 229.7,247.2 227.7,248.2 225.6,249.1 223.5,250.0 222.1,251.3 222.1,253.0 221.6,254.6 219.8,255.8 218.7,257.2 217.7,258.7 217.3,260.3 216.4,261.8 215.0,263.3 215.0,265.0 214.8,266.7 214.3,268.4 213.8,270.0 213.3,271.6 212.7,273.3 212.3,275.0 211.1,276.5 210.7,278.2 210.6,279.9 211.2,281.7 211.4,283.5 210.9,285.2 210.8,286.9 210.4,288.6 211.0,290.4 210.8,292.1 209.7,293.8 209.5,295.5 210.4,297.2 211.2,298.9 211.5,300.6 211.1,302.4 211.1,304.1 211.1,305.8 211.3,307.5 212.3,309.1 211.7,310.9 211.5,312.7 212.8,314.2 213.2,315.9 214.0,317.5 215.5,318.9 217.2,320.3 217.5,322.0 218.4,323.5 219.4,324.9 220.7,326.3 222.2,327.6 223.7,328.9 225.6,330.0 226.9,331.2 228.6,332.4 229.3,333.8 230.7,334.9 232.4,335.9 235.0,336.6 237.7,337.1 239.1,338.1 240.4,339.2 242.9,339.6 245.7,339.9 247.6,340.5 249.9,340.9 252.4,341.2 254.5,341.5 262.4,338.0 270.1,334.6 276.7,331.4 269.8,335.9 266.0,338.5 262.6,341.3 262.2,343.0 261.8,344.6 261.6,346.2 261.5,347.8 259.9,350.3 260.3,351.7 259.9,353.5 259.9,355.1 260.1,356.7 259.6,358.7 258.9,361.0 259.1,362.7 259.9,363.8 259.9,365.6 260.3,367.2 260.9,368.5 262.2,369.3 262.1,371.3 261.5,373.9 262.8,374.7 264.0,375.6 264.7,377.0 266.0,377.7 266.6,379.3 267.5,380.4 269.8,380.0 271.3,380.5 272.4,381.5 274.0,381.8 275.1,382.7 275.6,384.5 277.3,384.5 279.5,384.0 280.4,385.1 281.6,385.9 282.8,386.7 284.6,386.4 286.6,385.9 287.6,386.9 289.1,387.2 290.8,386.9 292.0,387.6 293.7,387.3 295.4,387.0 296.2,388.4 297.7,388.3 299.5,387.8 300.5,388.6 301.7,389.2 303.2,389.1 305.0,388.2 306.3,388.6 307.5,389.1 308.8,389.2 310.0,389.6 311.4,389.7 312.7,389.9 314.4,388.8 316.1,387.3 317.4,387.2 318.6,387.7 319.8,388.1 321.2,387.6 322.5,387.3 323.7,387.7 325.1,386.4 326.5,385.8 327.6,386.3 328.8,386.3 330.0,386.6 331.2,386.6 332.4,386.4 333.6,386.7 334.9,385.2 336.2,383.2 337.4,382.9 338.5,384.0 339.7,384.4 340.8,383.9 342.0,383.8 343.2,384.8 344.4,385.8 345.5,385.7 346.7,385.7 347.9,386.2 349.2,386.4 350.4,387.1 351.6,387.3 352.9,387.6 354.3,388.7 355.5,388.6 356.7,388.6 358.2,389.7 359.4,389.4 360.6,388.9 361.9,389.4 363.3,389.6 364.6,389.5 366.0,389.8 367.5,390.8 368.6,389.9 369.7,388.9 371.1,389.1 372.6,389.6 374.0,389.8 375.2,389.1 376.3,388.4 377.6,388.4 378.9,387.9 379.9,386.9 381.6,387.6 383.3,388.4 384.6,388.0 385.8,387.4 386.9,386.6 388.2,386.2 389.7,386.2 390.9,385.6 392.0,384.9 393.0,383.8 394.1,383.0 395.5,382.8 396.6,382.1 397.9,381.6 398.8,380.5 399.9,379.8 401.7,379.9 402.7,379.0 403.3,377.6 404.3,376.7 405.5,376.0 406.5,375.2 407.4,374.1 408.3,373.1 409.2,372.1 409.9,370.9 411.1,370.2 411.5,368.8 411.9,367.3 413.2,366.7 414.2,365.8 414.9,364.7 416.1,364.0 416.4,362.5 416.3,360.6 417.5,360.0 418.4,359.0 418.1,357.1 417.9,355.3 418.1,353.9 418.9,352.9 418.8,351.3 417.5,348.9 417.2,347.2 417.5,345.9 418.3,345.0 418.4,343.7 418.6,342.4 419.4,341.6 422.5,342.0 425.8,342.4 428.1,342.2 430.9,342.3 433.7,342.2 435.9,341.8 438.2,341.4 440.2,340.8 441.3,339.7 442.6,338.7 444.2,337.8 446.1,337.0 448.2,336.3 449.8,335.3 450.0,333.7 450.6,332.4 452.4,331.4 454.0,330.3 455.9,329.2 457.2,328.0 458.5,326.7 459.0,325.2 460.1,323.9 462.1,322.7 463.6,321.3 464.1,319.8 465.2,318.3 466.5,316.9 466.8,315.3 467.1,313.6 468.5,312.2 469.4,310.6 470.7,309.0 470.0,307.3 469.8,305.6 471.4,304.0 471.3,302.3 471.4,300.6 471.7,298.9 471.8,297.2 472.7,295.5 472.9,293.8 472.5,292.1 471.7,290.4 471.7,288.7 470.8,287.1 469.8,285.4 470.3,283.7 469.3,282.1 468.5,280.5 468.5,278.8 468.3,277.2 467.3,275.7 466.4,274.1 465.9,272.5 465.4,270.9 465.3,269.3 463.5,268.0 462.2,266.6 463.2,264.7 463.1,263.0 461.4,261.8 460.0,260.6 459.6,259.0 458.0,257.8 456.5,256.6 455.8,255.2 454.2,254.1 452.6,253.0 450.9,252.1 449.0,251.2 447.3,250.3 445.0,249.6 444.0,248.5 442.9,247.4 441.3,246.5 440.2,245.5 439.2,244.4 436.9,243.9 433.2,244.4 430.8,244.2 424.9,246.7 420.1,249.0 405.3,256.7 401.4,258.8 380.5,271.5 408.2,253.8 408.3,253.7 410.9,250.8 413.6,247.7 418.6,242.9 423.1,238.2 421.2,238.0 421.4,236.2 420.7,235.1 419.7,234.3 419.7,232.6 419.6,231.0 419.1,229.6 419.3,227.7 419.6,225.7 419.7,223.7 419.1,222.3 417.6,221.8 417.7,219.8 416.9,218.6 415.6,218.0 414.7,216.8 414.0,215.5 413.0,214.5 412.0,213.5 410.3,213.4 408.7,213.1 407.4,212.5 405.9,212.3 404.1,212.4 402.8,211.8 401.9,210.8 400.7,210.1 399.4,209.6 398.5,208.5 397.4,207.7 396.0,207.4 394.5,207.3 392.8,207.4 391.4,207.3 390.2,206.8 388.7,206.7 387.8,205.6 386.1,206.2 384.4,206.6 383.4,205.8 382.6,204.3 381.1,204.4 379.4,205.1 378.1,204.9 376.4,205.8 375.0,206.1 373.8,205.6 372.6,205.4 371.2,205.6 369.4,207.3 368.1,207.5 367.0,207.0 365.7,207.1 364.9,205.3 363.8,204.5 362.3,205.9 361.0,206.3 359.8,206.0 358.6,206.0 357.2,207.0 355.9,207.6 354.7,208.1 353.3,209.7 352.0,210.7 350.7,212.4 349.5,214.2 348.3,216.1 347.1,218.1 346.0,219.9 344.9,222.3 343.9,223.2 342.9,223.6 342.0,224.1" stroke="#ffff00" stroke-dasharray="4 2"/><path d="M342.0,225.8 341.1,224.3 340.1,221.7 339.0,220.3 338.0,219.3 336.9,217.7 335.8,216.6 334.6,215.4 333.5,214.5 332.3,213.8 331.1,212.4 329.7,210.7 328.4,209.8 327.1,208.6 325.7,207.8 324.4,206.8 322.8,205.2 321.4,204.6 320.1,204.4 318.8,204.2 317.4,203.8 316.0,203.3 314.3,202.1 312.6,200.9 311.0,200.2 309.4,199.4 307.8,198.8 306.4,199.1 304.9,198.8 303.4,198.7 301.9,198.6 300.1,197.9 298.9,198.8 297.4,198.7 296.3,199.6 295.4,201.0 293.3,200.0 291.3,199.2 289.8,199.4 288.7,200.3 287.5,201.0 286.4,202.1 285.3,203.1 284.5,204.4 283.7,205.8 282.8,207.0 282.1,208.4 281.4,209.7 280.7,211.2 280.4,213.0 280.3,215.1 280.1,217.0 279.3,218.1 278.2,218.8 277.5,220.0 277.1,221.5 276.1,222.3 274.7,222.7 274.0,223.8 273.2,224.9 272.5,226.0 271.7,227.1 270.9,228.0 269.4,228.4 269.2,229.9 269.0,231.5 267.6,232.0 265.2,231.6 263.8,232.2 263.4,233.6 262.3,234.3 262.2,235.9 259.8,235.8 258.1,236.2 256.2,236.6 254.7,237.2 253.8,238.2 250.8,238.0 250.3,239.3 248.7,240.0 246.3,240.3 244.9,241.1 242.9,241.7 240.7,242.2 238.6,242.8 236.5,243.5 234.8,244.3 233.5,245.5 231.8,246.4 230.2,247.5 227.7,248.2 225.0,248.8 223.8,250.1 222.6,251.5 222.2,253.1 221.1,254.5 220.1,255.9 220.1,257.7 219.4,259.2 217.8,260.5 216.7,261.9 216.0,263.5 215.6,265.2 215.2,266.8 214.5,268.4 214.2,270.1 214.8,271.9 214.9,273.7 214.7,275.3 215.2,277.1 214.5,278.7 213.4,280.3 213.6,282.0 213.1,283.7 212.9,285.3 211.6,287.0 212.4,288.7 212.9,290.4 212.3,292.1 213.1,293.8 213.1,295.5 212.5,297.2 212.4,298.9 213.0,300.6 212.5,302.3 212.5,304.0 213.6,305.6 213.3,307.3 213.2,309.0 214.4,310.6 214.9,312.2 215.2,313.9 215.7,315.5 217.0,317.0 217.8,318.5 217.9,320.2 218.9,321.7 220.2,323.1 221.4,324.5 222.9,325.7 223.8,327.2 225.2,328.5 226.4,329.7 227.9,330.9 230.9,331.6 232.1,332.8 232.8,334.2 235.6,334.8 237.8,335.5 239.8,336.3 241.5,337.1 243.8,337.7 246.3,338.1 248.9,338.4 250.4,339.2 252.9,339.4 254.9,339.9 256.6,340.4 259.8,340.1 263.1,339.7 264.4,340.3 264.5,341.6 265.2,342.6 264.9,344.1 264.9,345.6 265.0,346.9 264.8,348.6 264.4,350.3 264.7,351.7 265.1,352.9 264.6,354.9 264.5,356.6 265.5,357.4 265.5,359.1 265.3,361.0 265.6,362.5 266.1,363.8 266.7,365.1 267.0,366.7 267.5,368.0 268.4,369.1 269.1,370.3 270.2,371.1 271.6,371.6 272.5,372.6 273.2,374.0 273.7,375.4 274.5,376.6 275.8,377.3 276.5,378.6 276.9,380.3 278.2,380.9 279.7,381.2 280.5,382.5 281.8,383.1 283.3,383.4 284.6,383.9 286.6,383.3 288.2,383.2 288.6,385.2 290.2,385.3 291.9,385.0 293.5,384.9 295.1,384.7 296.6,384.7 297.8,385.1 299.0,385.6 300.3,386.0 301.2,387.2 302.8,386.8 304.5,386.1 305.8,386.3 307.2,386.1 308.4,386.5 310.1,385.7 311.2,386.2 312.4,386.5 314.2,385.0 315.6,384.7 316.7,385.1 317.7,386.1 318.8,387.0 320.2,386.5 321.8,384.9 323.0,384.7 324.1,385.3 325.4,384.9 326.7,384.7 328.0,384.1 329.2,383.4 330.5,383.0 331.7,382.7 332.9,382.3 334.1,381.6 335.2,381.9 336.3,382.8 337.5,382.0 338.6,381.7 339.8,381.3 340.9,380.3 342.0,380.6 343.1,381.1 344.2,381.3 345.4,381.9 346.6,383.4 347.8,383.7 348.9,383.7 350.1,383.4 351.4,384.8 352.7,386.0 353.9,386.1 355.2,386.6 356.3,385.8 357.6,386.1 359.0,387.3 360.2,386.9 361.3,386.3 362.5,386.0 364.0,387.0 365.4,387.6 366.4,386.4 367.6,386.4 369.1,386.8 370.2,386.4 371.4,385.8 373.0,386.8 374.4,387.1 375.4,386.0 376.7,385.9 377.6,384.8 378.7,384.1 380.3,384.6 381.8,385.0 382.8,384.1 384.1,383.7 385.5,383.8 386.2,382.3 387.6,382.3 389.0,382.0 389.9,381.0 391.0,380.3 392.1,379.7 393.3,379.3 394.0,378.0 395.0,377.1 396.4,376.9 397.2,375.8 398.1,374.8 399.3,374.4 400.7,374.1 401.6,373.2 402.1,371.8 403.1,371.0 404.2,370.3 405.2,369.5 405.8,368.2 406.6,367.2 407.2,366.1 407.7,364.7 408.4,363.7 409.5,363.0 411.1,362.8 411.9,361.8 412.4,360.6 413.0,359.5 413.7,358.4 414.5,357.4 415.5,356.6 415.8,355.2 415.4,353.3 416.6,352.7 416.9,351.4 416.4,349.6 416.3,348.0 416.5,346.7 416.5,345.3 416.9,344.1 417.3,343.0 417.7,341.9 419.5,341.6 422.2,341.8 424.6,341.7 427.4,341.9 430.3,342.0 433.0,341.9 434.9,341.3 437.8,341.2 440.9,341.1 442.2,340.1 442.9,338.9 443.7,337.6 444.7,336.5 446.0,335.4 447.9,334.6 449.9,333.7 450.7,332.4 451.8,331.2 452.9,329.9 453.5,328.5 454.6,327.2 455.7,326.0 456.4,324.6 457.6,323.3 459.8,322.2 461.2,320.8 462.0,319.4 462.8,317.9 464.4,316.5 464.7,314.9 465.0,313.3 465.7,311.8 467.0,310.3 467.9,308.7 468.0,307.1 467.6,305.4 468.1,303.8 469.3,302.2 468.7,300.5 469.4,298.8 470.3,297.2 470.5,295.5 469.7,293.8 469.4,292.2 470.1,290.5 470.2,288.8 470.2,287.1 469.5,285.5 468.2,283.9 467.7,282.3 466.8,280.7 466.3,279.1 466.0,277.5 465.5,275.9 464.7,274.4 464.3,272.8 462.8,271.5 462.0,270.0 461.4,268.5 460.0,267.2 459.8,265.6 458.5,264.3 457.3,263.0 456.7,261.5 454.7,260.5 453.8,259.2 452.2,258.1 450.7,257.0 448.7,256.2 446.0,255.6 444.2,254.7 444.1,253.2 442.8,252.2 440.3,251.7 438.4,251.0 436.6,250.4 436.0,249.1 434.9,248.2 433.6,247.3 430.6,247.4 427.7,247.5 424.0,248.2 420.2,249.0 418.2,248.8 415.6,249.1 413.9,248.8 414.3,247.2 415.0,245.3 414.8,244.1 414.6,242.8 415.1,240.9 415.4,239.1 416.1,237.1 416.4,235.3 415.5,234.4 414.9,233.3 415.4,231.2 415.3,229.5 414.1,228.9 414.1,227.1 413.7,225.6 412.7,224.8 412.3,223.3 411.4,222.3 410.8,221.1 410.2,219.8 409.1,219.0 408.0,218.2 407.1,217.2 405.9,216.6 405.2,215.3 404.5,214.0 402.7,214.2 401.3,213.8 400.3,213.0 398.4,213.5 397.0,213.1 396.5,211.6 395.1,211.4 394.4,210.1 393.4,209.1 392.5,208.1 391.1,207.8 389.6,207.8 388.0,208.1 386.8,207.5 385.9,206.6 384.1,207.3 383.0,206.5 381.2,207.5 379.7,207.7 378.7,207.0 376.9,207.9 375.6,207.9 374.7,206.8 373.4,206.7 371.7,207.9 370.0,209.3 369.1,208.3 367.7,208.7 366.2,209.6 364.9,210.2 363.7,209.9 362.6,209.8 361.5,209.1 360.5,208.5 359.1,209.6 357.7,210.8 356.5,211.0 355.3,211.5 354.1,212.3 352.9,212.8 351.7,213.7 350.5,214.5 349.3,215.8 348.1,218.3 347.0,219.7 345.9,222.0 344.8,224.9 343.8,226.3 342.9,225.8 342.0,225.5" stroke="#00ffff" stroke-dasharray="4 2"/><path d="M342.0,230.5 341.1,228.2 340.2,225.6 339.2,224.4 338.2,223.6 337.2,222.8 336.1,220.9 335.2,221.5 334.2,221.4 332.9,218.4 331.7,216.9 330.6,217.0 329.4,216.2 328.1,214.7 326.8,213.5 325.4,212.2 324.1,211.4 322.8,210.8 321.6,210.7 320.4,210.3 319.2,210.4 318.0,210.3 316.2,208.4 314.7,207.5 313.6,208.1 312.2,207.6 310.6,206.9 309.2,206.7 308.1,207.2 306.6,206.8 305.2,206.7 303.9,206.9 302.8,207.4 301.7,208.1 299.6,206.5 297.9,206.1 296.4,205.9 294.7,205.7 293.6,206.4 292.0,206.3 290.4,206.1 289.4,207.1 288.9,208.8 288.1,210.2 287.5,211.6 286.9,213.0 286.0,214.0 285.5,215.6 285.1,217.2 284.2,218.0 283.4,219.2 282.9,220.5 282.0,221.4 281.1,222.3 280.2,223.1 279.3,224.0 278.8,225.3 278.2,226.5 277.3,227.4 276.9,228.7 276.3,229.8 276.0,231.2 275.3,232.2 274.5,233.1 273.6,233.9 272.3,234.4 271.3,235.1 270.7,236.2 270.9,237.9 270.6,239.2 269.4,239.8 268.7,240.8 267.3,241.2 265.5,241.5 265.1,242.7 262.9,242.7 261.7,243.4 261.0,244.4 260.6,245.6 259.3,246.3 256.9,246.3 254.9,246.7 252.8,247.1 250.9,247.6 246.5,246.8 242.8,246.6 239.8,246.7 238.1,247.6 235.9,248.3 233.4,248.8 231.6,249.8 230.1,250.8 227.8,251.7 226.6,252.9 226.0,254.4 224.9,255.7 223.7,257.1 222.3,258.3 221.1,259.7 221.0,261.4 221.3,263.2 220.6,264.7 220.3,266.3 220.7,268.0 219.8,269.5 219.2,271.1 220.2,272.9 219.3,274.4 218.2,275.9 217.9,277.5 217.6,279.1 217.2,280.7 216.7,282.3 216.6,284.0 216.9,285.7 216.8,287.3 216.0,288.9 216.7,290.6 217.3,292.2 217.2,293.9 216.7,295.5 216.1,297.1 216.4,298.8 216.9,300.4 217.9,302.0 217.5,303.7 217.5,305.3 218.9,306.8 218.8,308.4 219.2,310.0 219.6,311.6 219.0,313.3 220.0,314.8 221.8,316.2 222.9,317.6 223.0,319.2 223.3,320.7 224.8,322.0 226.6,323.2 227.1,324.7 228.1,326.0 230.5,326.9 231.8,328.1 232.0,329.6 233.8,330.7 236.3,331.4 237.8,332.4 239.7,333.2 241.5,334.1 242.8,335.1 245.1,335.6 247.1,336.3 249.3,336.8 251.0,337.4 252.8,338.0 255.0,338.4 257.2,338.7 259.6,338.9 262.6,338.6 265.9,338.1 267.6,338.4 268.4,339.3 269.2,340.1 269.0,341.5 268.6,343.1 268.6,344.5 268.0,346.4 267.9,347.9 268.2,349.1 268.2,350.6 268.7,351.8 268.5,353.5 268.7,354.9 269.5,355.8 269.9,357.0 270.6,358.1 271.0,359.4 271.3,360.9 272.0,362.0 272.9,362.8 273.1,364.4 273.8,365.5 274.9,366.3 275.7,367.2 277.1,367.6 278.1,368.4 278.3,370.1 279.0,371.2 280.6,371.4 282.1,371.4 283.2,372.2 284.2,373.0 285.4,373.4 286.3,374.3 286.7,375.9 288.2,376.0 289.7,376.1 291.3,375.9 292.5,376.3 293.2,377.5 294.4,378.0 295.6,378.3 296.0,380.2 297.1,380.9 298.8,380.4 300.6,379.4 301.9,379.5 303.2,379.7 304.6,379.5 305.7,380.0 306.9,380.2 308.7,378.9 310.0,378.8 310.8,380.1 312.0,380.1 313.1,380.7 314.3,380.7 315.6,380.4 316.9,380.1 318.2,379.8 319.3,380.3 320.5,380.3 321.7,380.1 322.9,380.1 323.9,380.5 325.1,380.6 326.4,379.8 327.5,379.8 328.7,379.7 329.9,379.2 331.1,378.4 332.3,377.2 333.4,377.1 334.5,376.8 335.6,376.4 336.8,375.1 337.9,374.1 338.9,373.8 340.0,372.2 341.0,371.3 342.0,371.5 343.0,372.6 344.1,374.8 345.2,378.1 346.4,380.3 347.7,382.4 348.9,383.1 350.0,382.7 351.2,383.2 352.5,384.1 353.7,384.4 354.8,383.9 356.1,384.7 357.6,386.1 358.7,385.8 360.0,386.1 361.2,385.8 362.2,384.7 363.3,384.4 364.7,385.1 366.2,385.9 367.3,385.3 368.5,384.9 369.9,385.3 371.2,385.5 372.4,385.0 373.5,384.5 375.0,385.1 376.1,384.4 377.2,383.7 378.5,383.6 379.6,383.0 380.7,382.4 381.8,381.8 383.2,381.8 384.3,381.2 385.2,380.3 386.6,380.3 387.5,379.4 388.6,378.7 390.0,378.6 390.9,377.7 391.6,376.4 392.6,375.7 393.8,375.3 394.5,374.1 395.3,373.1 396.9,373.2 398.2,372.9 398.6,371.3 399.5,370.5 400.7,370.0 401.3,368.7 401.9,367.6 402.8,366.6 403.3,365.4 403.9,364.3 404.0,362.6 404.6,361.4 405.4,360.6 406.6,360.1 407.8,359.6 408.5,358.6 409.5,357.9 410.4,357.1 411.1,356.1 411.3,354.7 411.8,353.6 412.7,352.7 413.8,352.1 415.4,351.8 415.9,350.7 415.5,348.9 415.8,347.6 415.0,345.7 414.6,344.0 415.2,343.0 415.5,341.9 416.9,341.4 418.3,340.9 419.4,340.2 421.6,340.1 424.5,340.3 426.5,340.0 428.7,339.7 431.5,339.6 434.1,339.4 435.4,338.6 437.6,338.1 438.0,336.7 438.3,335.4 441.4,335.2 442.7,334.2 443.1,332.8 444.5,331.8 445.6,330.7 447.2,329.7 449.6,328.9 449.9,327.5 449.9,325.9 452.0,325.0 453.8,323.9 454.6,322.5 456.8,321.5 458.3,320.2 458.7,318.7 458.8,317.2 459.1,315.6 460.2,314.2 460.9,312.7 462.2,311.3 463.2,309.8 463.7,308.3 464.6,306.8 465.6,305.2 466.5,303.7 466.3,302.0 466.8,300.4 467.8,298.8 468.0,297.1 468.1,295.5 467.6,293.9 466.9,292.2 467.3,290.6 467.6,288.9 467.8,287.3 466.8,285.7 465.5,284.2 465.1,282.6 465.5,280.9 465.6,279.2 464.5,277.7 463.6,276.2 461.9,274.9 461.1,273.4 461.6,271.7 461.4,270.1 459.6,268.9 458.2,267.6 457.3,266.2 455.9,265.0 455.3,263.6 453.6,262.4 451.0,261.7 450.1,260.4 449.3,259.1 447.9,258.0 446.3,257.0 444.9,256.0 444.7,254.5 443.0,253.7 440.0,253.4 438.8,252.4 437.1,251.7 435.8,250.7 434.1,250.1 432.4,249.4 430.8,248.8 428.0,248.8 425.3,248.8 422.3,249.1 421.8,248.5 416.3,251.3 400.9,259.4 397.3,261.4 386.5,267.7 401.8,257.8 402.0,257.7 406.5,253.6 410.5,249.7 414.6,245.6 413.4,245.1 413.0,243.9 412.9,242.5 413.0,241.0 412.2,240.1 412.9,238.1 412.9,236.5 412.3,235.5 412.4,233.8 411.9,232.5 411.2,231.5 410.9,230.1 410.3,229.0 409.3,228.2 408.2,227.5 407.2,226.7 406.9,225.3 406.0,224.4 404.7,224.0 404.3,222.5 402.8,222.4 401.8,221.6 400.9,220.8 399.5,220.6 398.4,220.0 396.9,219.9 395.6,219.6 394.9,218.6 394.0,217.7 392.3,218.0 391.1,217.7 389.8,217.6 389.6,216.3 388.8,216.8 387.5,216.6 386.6,215.9 385.3,215.7 384.9,215.5 384.1,215.4 383.2,214.6 381.8,214.7 380.5,214.9 379.3,214.6 377.9,214.9 376.3,215.7 375.1,215.5 374.3,214.6 373.4,213.7 372.1,214.0 371.8,214.8 370.4,215.3 368.9,216.2 367.7,216.3 366.9,216.9 366.2,217.7 365.3,217.0 364.0,217.5 362.7,218.1 361.7,218.1 360.5,218.3 359.5,218.1 358.6,217.4 357.8,217.7 357.3,218.4 356.1,219.4 355.1,219.4 354.1,219.0 353.0,219.8 351.9,220.2 350.8,220.9 349.9,219.9 348.9,220.1 348.8,220.9 347.7,222.9 346.9,224.8 346.6,225.4 345.6,226.9 344.6,229.4 343.7,230.3 342.9,230.2 342.0,230.5" stroke="#ff00ff" stroke-dasharray="4 2"/></g>
<g font-weight="bold" font-size="18.5" fill="#000" stroke="#000" stroke-width="0.45" text-anchor="middle">
<text transform="translate(341.8,137.4) scale(1,1.14)">0</text>
<text transform="translate(253.4,150.5) scale(1,1.14)">30</text>
<text transform="translate(430.5,150.5) scale(1,1.14)">330</text>
<text transform="translate(188.9,215) scale(1,1.14)">60</text>
<text transform="translate(494.7,215) scale(1,1.14)">300</text>
<text transform="translate(163.6,303) scale(1,1.14)">90</text>
<text transform="translate(519.8,302.6) scale(1,1.14)">270</text>
<text transform="translate(189.6,390.7) scale(1,1.14)">120</text>
<text transform="translate(494.7,390.7) scale(1,1.14)">240</text>
<text transform="translate(254,455.7) scale(1,1.14)">150</text>
<text transform="translate(430,455.7) scale(1,1.14)">210</text>
<text transform="translate(342.6,468.4) scale(1,1.14)">180</text>
</g>
<text transform="translate(350,102.6) scale(1,1.08)" font-weight="bold" font-size="24" text-anchor="middle" stroke="#000" stroke-width="0.45">Total</text>
<text x="327" y="495.8" font-weight="bold" font-size="19.5" text-anchor="middle" stroke="#000" stroke-width="0.4">Phi Angle</text>
<text transform="translate(126.5,295) rotate(-90)" font-weight="bold" font-size="18.5" letter-spacing="1.5" text-anchor="middle" stroke="#000" stroke-width="0.4" xml:space="preserve">Power  (dBm)</text>
<g font-weight="bold" font-size="20.6" stroke="#000" stroke-width="0.4"><text transform="translate(10.8,422.8) scale(0.96,1)">Max: 10</text><text transform="translate(10.8,445.9) scale(0.96,1)">Min: -40</text><text transform="translate(10.8,468.4) scale(0.96,1)">Scale: 5/div</text></g>
<rect x="583.3" y="142.6" width="112.9" height="305.2" fill="none" stroke="#111" stroke-width="1.7"/>
<g font-weight="bold" font-size="18.8"><line x1="587.5" y1="146.6" x2="634.5" y2="146.6" stroke="#ffff00" stroke-width="1.6"/><text transform="translate(588.6,165.8) scale(0.96,1)" fill="#ffff00" stroke="#ffff00" stroke-width="0.4">4900</text><line x1="587.5" y1="170.0" x2="634.5" y2="170.0" stroke="#00ffff" stroke-width="1.6"/><text transform="translate(588.6,189.2) scale(0.96,1)" fill="#00ffff" stroke="#00ffff" stroke-width="0.4">5000</text><line x1="587.5" y1="193.4" x2="634.5" y2="193.4" stroke="#ff00ff" stroke-width="1.6"/><text transform="translate(588.6,212.6) scale(0.96,1)" fill="#ff00ff" stroke="#ff00ff" stroke-width="0.4">5100</text><line x1="587.5" y1="216.8" x2="634.5" y2="216.8" stroke="#ff8000" stroke-width="1.6"/><text transform="translate(588.6,236.0) scale(0.96,1)" fill="#ff8000" stroke="#ff8000" stroke-width="0.4">5150</text><line x1="587.5" y1="240.2" x2="634.5" y2="240.2" stroke="#00ff80" stroke-width="1.6"/><text transform="translate(588.6,259.4) scale(0.96,1)" fill="#00ff80" stroke="#00ff80" stroke-width="0.4">5200</text><line x1="587.5" y1="263.6" x2="634.5" y2="263.6" stroke="#8000ff" stroke-width="1.6"/><text transform="translate(588.6,282.8) scale(0.96,1)" fill="#8000ff" stroke="#8000ff" stroke-width="0.4">5300</text><line x1="587.5" y1="287.0" x2="634.5" y2="287.0" stroke="#808080" stroke-width="1.6"/><text transform="translate(588.6,306.2) scale(0.96,1)" fill="#808080" stroke="#808080" stroke-width="0.4">5400</text><line x1="587.5" y1="310.4" x2="604.8" y2="310.4" stroke="#ff0000" stroke-width="1.6"/><line x1="611.2" y1="310.4" x2="628.5" y2="310.4" stroke="#ff0000" stroke-width="1.6"/><text transform="translate(588.6,329.6) scale(0.96,1)" fill="#ff0000" stroke="#ff0000" stroke-width="0.4">5500</text><line x1="587.5" y1="333.8" x2="604.8" y2="333.8" stroke="#00ff00" stroke-width="1.6"/><line x1="611.2" y1="333.8" x2="628.5" y2="333.8" stroke="#00ff00" stroke-width="1.6"/><text transform="translate(588.6,353.0) scale(0.96,1)" fill="#00ff00" stroke="#00ff00" stroke-width="0.4">5600</text><line x1="587.5" y1="357.2" x2="604.8" y2="357.2" stroke="#0000ff" stroke-width="1.6"/><line x1="611.2" y1="357.2" x2="628.5" y2="357.2" stroke="#0000ff" stroke-width="1.6"/><text transform="translate(588.6,376.4) scale(0.96,1)" fill="#0000ff" stroke="#0000ff" stroke-width="0.4">5700</text><line x1="587.5" y1="380.6" x2="604.8" y2="380.6" stroke="#ffff00" stroke-width="1.6"/><line x1="611.2" y1="380.6" x2="628.5" y2="380.6" stroke="#ffff00" stroke-width="1.6"/><text transform="translate(588.6,399.8) scale(0.96,1)" fill="#ffff00" stroke="#ffff00" stroke-width="0.4">5800</text><line x1="587.5" y1="404.0" x2="604.8" y2="404.0" stroke="#00ffff" stroke-width="1.6"/><line x1="611.2" y1="404.0" x2="628.5" y2="404.0" stroke="#00ffff" stroke-width="1.6"/><text transform="translate(588.6,423.2) scale(0.96,1)" fill="#00ffff" stroke="#00ffff" stroke-width="0.4">5875</text><line x1="646" y1="146.6" x2="663.4" y2="146.6" stroke="#ff00ff" stroke-width="1.6"/><line x1="669.6" y1="146.6" x2="687.1" y2="146.6" stroke="#ff00ff" stroke-width="1.6"/><text transform="translate(646.6,165.8) scale(0.96,1)" fill="#ff00ff" stroke="#ff00ff" stroke-width="0.4">5900</text></g>
</svg></body></html>
